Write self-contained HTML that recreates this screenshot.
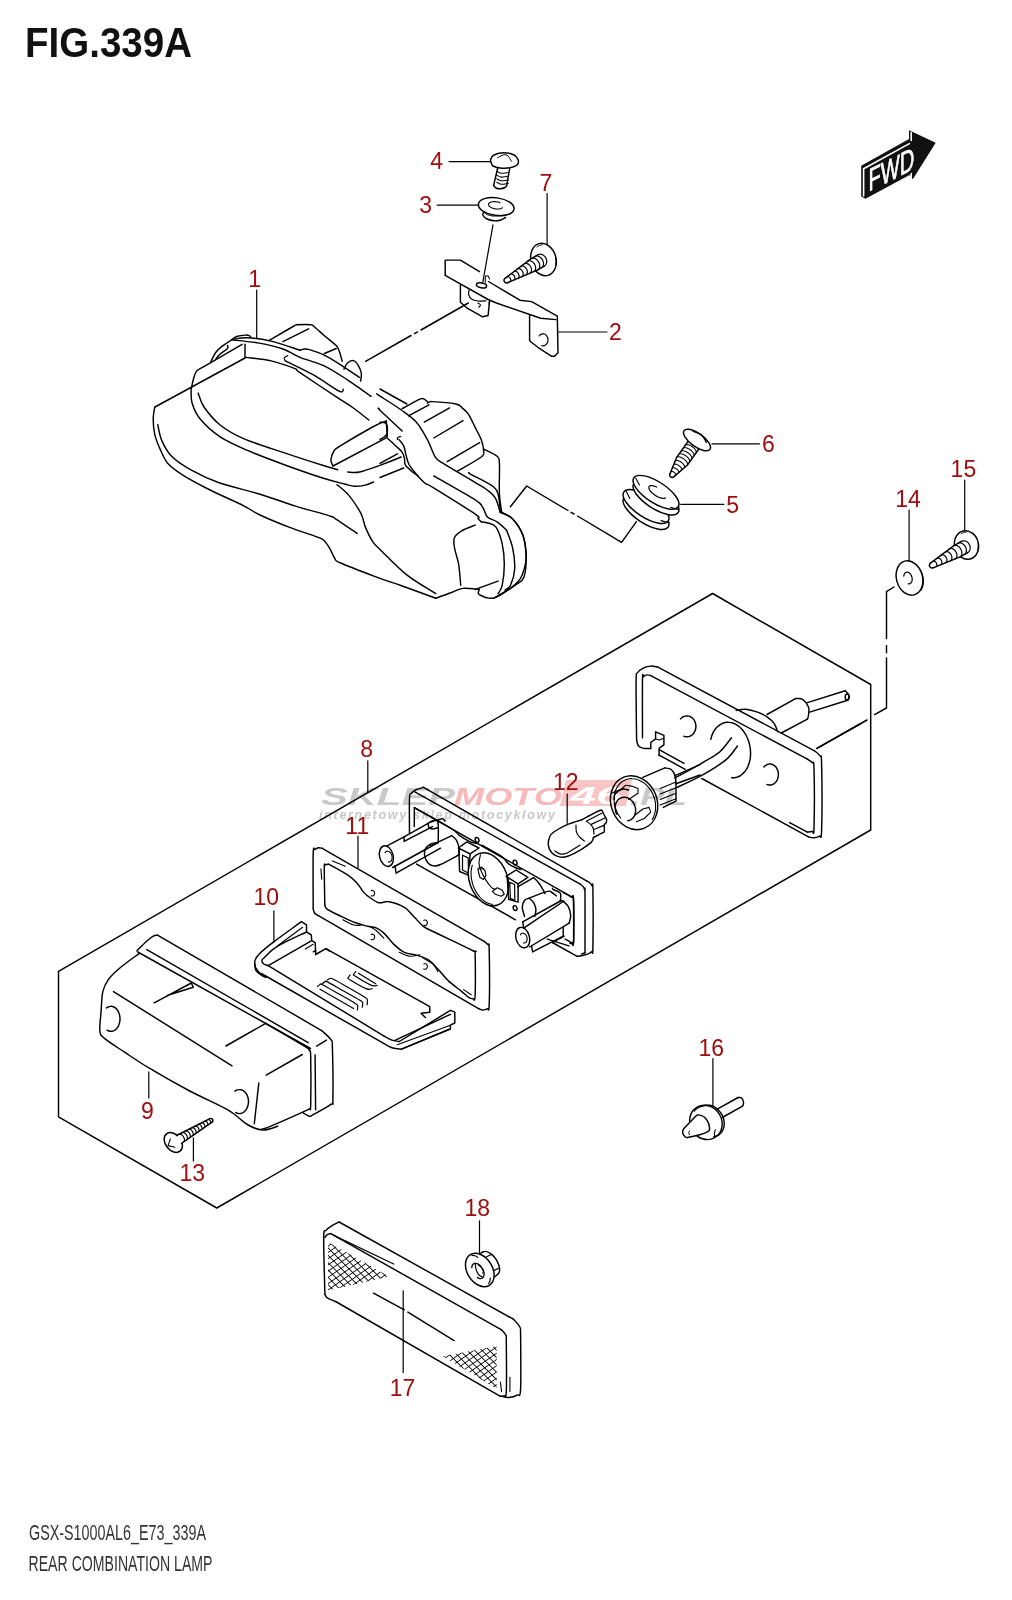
<!DOCTYPE html>
<html><head><meta charset="utf-8"><style>
html,body{margin:0;padding:0;background:#fff;}
body{width:1012px;height:1600px;overflow:hidden;}
svg{display:block;}
.lb{font-family:"Liberation Sans",sans-serif;font-size:23px;fill:#a00d0d;stroke:none;}
</style></head><body>
<svg width="1012" height="1600" viewBox="0 0 1012 1600">
<g fill="none" stroke="#000" stroke-width="1.45" stroke-linecap="round" stroke-linejoin="round">
<text x="25" y="57.3" font-family="Liberation Sans" font-weight="bold" font-size="42.5" fill="#111" stroke="none" textLength="167" lengthAdjust="spacingAndGlyphs">FIG.339A</text>
<text x="29" y="1540.4" font-family="Liberation Sans" font-size="21.5" fill="#333" stroke="none" textLength="177" lengthAdjust="spacingAndGlyphs">GSX-S1000AL6_E73_339A</text>
<text x="28.5" y="1570.9" font-family="Liberation Sans" font-size="21.5" fill="#333" stroke="none" textLength="184" lengthAdjust="spacingAndGlyphs">REAR COMBINATION LAMP</text>
<path d="M861.2 165.7 L909 139 L909 130.3 L935.7 142.8 L912.8 179.2 L909.6 175 L865.5 198.8 L861.2 196.6 Z" fill="#111" stroke="none"/>
<path d="M863.6 196 L863.6 168.8 L909.4 143.6 M911.2 132.5 L911.2 140.5 M911.2 173.5 L911.2 177.5" stroke="#fff" stroke-width="1.6"/>
<text transform="matrix(1 -0.5 0 1 868.4 191.8)" font-family="Liberation Sans" font-size="32" fill="#fff" stroke="#fff" stroke-width="0.7" textLength="46" lengthAdjust="spacingAndGlyphs">FWD</text>
<path d="M712.6 593.5 L870.7 684.5 L870.7 830 L216.8 1208 L58.5 1116.8 L58.5 971.3 Z"/>
<path d="M817 748.3 L867 720"/>
<path d="M365.6 361.3 L411 335.5"/>
<path d="M414.5 333.6 L417.5 331.9"/>
<path d="M421 330 L468.3 303"/>
<path d="M510.4 506.7 L526.7 486 L568 510.5"/>
<path d="M571 512.3 L574 514"/>
<path d="M577.5 516 L621.6 542.3 L636.4 521.6"/>
<path d="M874.6 714.6 L886.5 708 L886.5 658"/>
<path d="M886.5 652.7 L886.5 645.6"/>
<path d="M886.5 638.6 L886.5 591.7 L894 587"/>
<path d="M256.7 290.2 L256.7 338" stroke-width="1.2"/>
<path d="M558.1 332 L607 332" stroke-width="1.2"/>
<path d="M437.3 205.2 L478.8 205.2" stroke-width="1.2"/>
<path d="M449.1 161.7 L490.6 161.7" stroke-width="1.2"/>
<path d="M680.8 504.4 L723.8 504.4" stroke-width="1.2"/>
<path d="M712 443.9 L759.4 443.9" stroke-width="1.2"/>
<path d="M547.1 193.6 L547.1 244.8" stroke-width="1.2"/>
<path d="M367.8 760.9 L367.8 791.8" stroke-width="1.2"/>
<path d="M148.8 1071.9 L148.8 1098" stroke-width="1.2"/>
<path d="M273.9 911.2 L273.9 942" stroke-width="1.2"/>
<path d="M358 836 L358 867.4" stroke-width="1.2"/>
<path d="M567.2 794 L567.2 823.2" stroke-width="1.2"/>
<path d="M193.4 1137.8 L193.4 1161" stroke-width="1.2"/>
<path d="M909.1 510 L909.1 561" stroke-width="1.2"/>
<path d="M964.7 480.2 L964.7 530.7" stroke-width="1.2"/>
<path d="M712.9 1058.7 L712.9 1106" stroke-width="1.2"/>
<path d="M403.2 1290.8 L403.2 1372.6" stroke-width="1.2"/>
<path d="M479.5 1220.8 L479.5 1252.8" stroke-width="1.2"/>
<text x="254.7" y="287" class="lb" text-anchor="middle">1</text>
<text x="615.5" y="339.5" class="lb" text-anchor="middle">2</text>
<text x="425.6" y="213.3" class="lb" text-anchor="middle">3</text>
<text x="436.7" y="169.2" class="lb" text-anchor="middle">4</text>
<text x="732.7" y="512.5" class="lb" text-anchor="middle">5</text>
<text x="768.3" y="451.7" class="lb" text-anchor="middle">6</text>
<text x="545.8" y="191" class="lb" text-anchor="middle">7</text>
<text x="366.6" y="757" class="lb" text-anchor="middle">8</text>
<text x="147.4" y="1119" class="lb" text-anchor="middle">9</text>
<text x="266.3" y="904.8" class="lb" text-anchor="middle">10</text>
<text x="357.3" y="833.7" class="lb" text-anchor="middle">11</text>
<text x="565.7" y="790" class="lb" text-anchor="middle">12</text>
<text x="192.2" y="1181.3" class="lb" text-anchor="middle">13</text>
<text x="908.1" y="506.5" class="lb" text-anchor="middle">14</text>
<text x="963.4" y="476.7" class="lb" text-anchor="middle">15</text>
<text x="711.3" y="1056" class="lb" text-anchor="middle">16</text>
<text x="402.5" y="1396" class="lb" text-anchor="middle">17</text>
<text x="477.2" y="1216" class="lb" text-anchor="middle">18</text>
<path d="M491.5 163.5 C491.4 162.8 490.2 160.9 490.6 159.5 C491 158.1 491.8 156.1 494 155 C496.2 153.9 500.7 152.8 504 152.8 C507.3 152.8 511.6 153.8 514 155 C516.4 156.2 517.7 158.3 518.2 160 C518.7 161.7 518.4 163.7 517 165 C515.6 166.3 512.8 167.3 510 167.8 C507.2 168.3 502.8 168.3 500 168 C497.2 167.7 494.4 166.8 493 166 C491.6 165.2 491.8 163.9 491.5 163.5"/>
<path d="M497.5 157.8 C498.5 157.3 501.9 155.1 503.7 154.8 C505.4 154.5 506.7 154.9 508 156 C509.3 157.1 510.8 160.4 511.4 161.3" stroke-width="1"/>
<path d="M497.7 168 L493.6 185.5"/>
<path d="M509.6 168.8 L506.6 186"/>
<path d="M493.6 185.5 C494 185.9 494.9 187.4 496 188 C497.1 188.6 499 188.9 500.5 188.8 C502 188.7 504 188 505 187.5 C506 187 506.3 186.2 506.6 186"/>
<path d="M496.8 171.3 C497.5 171.6 499.1 173.1 501 173.3 C502.9 173.5 507.1 172.6 508.3 172.5" stroke-width="1.1"/>
<path d="M496.8 175.1 C497.5 175.4 499.1 176.9 501 177.1 C502.9 177.3 507.1 176.4 508.3 176.3" stroke-width="1.1"/>
<path d="M496.8 178.8 C497.5 179.1 499.1 180.6 501 180.8 C502.9 181 507.1 180.1 508.3 180" stroke-width="1.1"/>
<path d="M496.8 182.3 C497.5 182.6 499.1 184.1 501 184.3 C502.9 184.5 507.1 183.6 508.3 183.5" stroke-width="1.1"/>
<ellipse cx="496.2" cy="206.6" rx="18" ry="8.8" transform="rotate(8 496.2 206.6)"/>
<path d="M502.5 207.8 C502.4 207.8 502.2 208 501.9 208.1 C501.7 208.2 501.5 208.3 501.3 208.4 C501 208.5 500.7 208.6 500.5 208.7 C500.2 208.8 499.9 208.8 499.6 208.9 C499.3 208.9 499 209 498.6 209 C498.3 209 498 209 497.6 209 C497.3 209 496.9 209 496.6 209 C496.2 209 495.9 208.9 495.5 208.9 C495.2 208.8 494.8 208.8 494.5 208.7 C494.2 208.6 493.8 208.5 493.5 208.4 C493.2 208.4 492.8 208.2 492.5 208.1 C492.2 208 491.9 207.9 491.6 207.8 C491.4 207.6 491.1 207.5 490.8 207.4 C490.6 207.2 490.3 207.1 490.1 206.9 C489.9 206.7 489.7 206.6 489.5 206.4 C489.4 206.2 489.2 206.1 489.1 205.9 C489 205.7 488.8 205.6 488.8 205.4 C488.7 205.2 488.6 205 488.6 204.9 C488.6 204.7 488.5 204.5 488.6 204.3 C488.6 204.2 488.6 204 488.7 203.8 C488.7 203.7 488.8 203.5 488.9 203.4 C489.1 203.2 489.2 203.1 489.4 202.9 C489.5 202.8 489.7 202.7 489.9 202.6 C490.1 202.4 490.3 202.3 490.6 202.2 C490.8 202.1 491.1 202.1 491.3 202 C491.6 201.9 491.9 201.8 492.2 201.8 C492.5 201.7 492.8 201.7 493.1 201.6 C493.4 201.6 493.8 201.6 494.1 201.6 C494.5 201.6 494.8 201.6 495.1 201.6 C495.5 201.6 495.8 201.7 496.2 201.7 C496.5 201.7 496.9 201.8 497.2 201.9 C497.6 201.9 497.9 202 498.3 202.1 C498.6 202.2 498.9 202.3 499.2 202.4 C499.6 202.5 500 202.7 500.1 202.7" stroke-width="1.1"/>
<path d="M483.5 212.5 C483.4 213 482.4 214.4 483 215.5 C483.6 216.6 485.2 218.1 487 219 C488.8 219.9 491.7 220.6 494 220.8 C496.3 221 499.1 220.6 501 220 C502.9 219.4 504.8 217.9 505.5 217.5"/>
<path d="M482.3 210.5 C482.9 211.1 484.2 213.1 486 214 C487.8 214.9 490.2 215.8 493 216 C495.8 216.2 501.3 215.6 503 215.5" stroke-width="1"/>
<ellipse cx="543.5" cy="259.5" rx="12.5" ry="16.5" transform="rotate(-16 543.5 259.5)"/>
<path d="M537 247 C537.1 246.9 537.5 246.6 537.8 246.4 C538 246.2 538.3 246 538.6 245.8 C538.9 245.7 539.2 245.5 539.5 245.4 C539.8 245.3 540.1 245.2 540.4 245.1 C540.7 245 541 244.9 541.3 244.9 C541.6 244.8 542.1 244.8 542.3 244.8" stroke-width="1"/>
<path d="M555.4 257.7 C555.4 257.9 555.6 258.6 555.6 259 C555.7 259.4 555.7 259.9 555.8 260.3 C555.8 260.7 555.8 261.2 555.9 261.6 C555.9 262 555.9 262.4 555.8 262.8 C555.8 263.3 555.8 263.7 555.7 264.1 C555.7 264.5 555.6 265.1 555.5 265.3" stroke-width="1"/>
<path d="M537.8 254.9 L530.8 258.9 L505.1 278.3 L504.2 279.2 L504 280.4 L504.4 281.6 L505.2 282.6 L506.4 282.9 L507.5 282.7 L537.3 270.1 L544.2 266.1 Z" fill="#fff" stroke="none"/>
<path d="M505.1 278.3 C504.9 278.5 504.4 278.8 504.2 279.2 C504.1 279.5 504 280 504 280.4 C504 280.8 504.1 281.3 504.4 281.6 C504.6 282 504.9 282.3 505.2 282.6 C505.6 282.8 506 282.9 506.4 282.9 C506.8 283 507.4 282.7 507.5 282.7"/>
<path d="M537.8 254.9 L530.8 258.9 L505.1 278.3"/>
<path d="M544.2 266.1 L537.3 270.1 L507.5 282.7"/>
<path d="M537.8 254.9 C537.9 254.8 538.2 254.6 538.5 254.5 C538.7 254.4 539 254.4 539.2 254.3 C539.5 254.3 539.8 254.2 540 254.2 C540.3 254.2 540.6 254.2 540.9 254.3 C541.1 254.3 541.4 254.4 541.7 254.4 C542 254.5 542.2 254.6 542.5 254.7 C542.8 254.8 543 255 543.3 255.1 C543.5 255.3 543.8 255.5 544 255.7 C544.2 255.8 544.5 256 544.7 256.3 C544.9 256.5 545.1 256.7 545.3 257 C545.5 257.2 545.6 257.5 545.8 257.7 C545.9 258 546.1 258.3 546.2 258.6 C546.3 258.9 546.4 259.1 546.5 259.4 C546.6 259.7 546.7 260 546.7 260.3 C546.7 260.6 546.8 260.9 546.8 261.2 C546.8 261.5 546.8 261.8 546.7 262.1 C546.7 262.4 546.7 262.7 546.6 262.9 C546.5 263.2 546.4 263.5 546.3 263.7 C546.2 264 546.1 264.2 545.9 264.5 C545.8 264.7 545.6 264.9 545.5 265.1 C545.3 265.3 545.1 265.5 544.9 265.7 C544.7 265.8 544.4 266.1 544.2 266.1" stroke-width="1.2"/>
<path d="M535.1 256.4 C535.2 256.3 535.5 256.2 535.7 256.1 C535.9 256 536.2 256 536.4 256 C536.6 255.9 536.8 255.9 537.1 255.9 C537.3 256 537.5 256 537.8 256 C538 256.1 538.3 256.2 538.5 256.3 C538.8 256.4 539 256.5 539.2 256.6 C539.5 256.7 539.7 256.9 539.9 257 C540.2 257.2 540.4 257.4 540.6 257.6 C540.8 257.8 541.1 258 541.3 258.2 C541.5 258.5 541.6 258.7 541.8 259 C542 259.2 542.2 259.5 542.3 259.7 C542.5 260 542.6 260.3 542.8 260.6 C542.9 260.8 543 261.1 543.1 261.4 C543.2 261.7 543.3 262 543.3 262.3 C543.4 262.6 543.4 262.9 543.5 263.1 C543.5 263.4 543.5 263.7 543.5 264 C543.5 264.2 543.5 264.5 543.4 264.8 C543.4 265 543.3 265.3 543.3 265.5 C543.2 265.7 543.1 266 543 266.2 C542.9 266.4 542.7 266.6 542.6 266.8 C542.5 266.9 542.3 267.1 542.2 267.3 C542 267.4 541.7 267.6 541.6 267.6" stroke-width="1.2"/>
<path d="M531.4 258.5 C531.5 258.5 531.8 258.3 532 258.3 C532.2 258.2 532.4 258.1 532.7 258.1 C532.9 258.1 533.1 258.1 533.3 258.1 C533.6 258.1 533.8 258.1 534.1 258.2 C534.3 258.2 534.5 258.3 534.8 258.4 C535 258.5 535.3 258.6 535.5 258.8 C535.7 258.9 536 259 536.2 259.2 C536.4 259.4 536.7 259.6 536.9 259.7 C537.1 259.9 537.3 260.2 537.5 260.4 C537.7 260.6 537.9 260.9 538.1 261.1 C538.3 261.4 538.4 261.6 538.6 261.9 C538.8 262.2 538.9 262.4 539 262.7 C539.1 263 539.3 263.3 539.4 263.6 C539.4 263.8 539.5 264.1 539.6 264.4 C539.7 264.7 539.7 265 539.7 265.3 C539.8 265.6 539.8 265.9 539.8 266.1 C539.8 266.4 539.7 266.7 539.7 266.9 C539.7 267.2 539.6 267.4 539.5 267.7 C539.4 267.9 539.4 268.1 539.2 268.3 C539.1 268.5 539 268.7 538.9 268.9 C538.7 269.1 538.6 269.3 538.4 269.4 C538.3 269.6 538 269.7 537.9 269.8" stroke-width="1.2"/>
<path d="M527.9 261.1 C528 261 528.3 260.9 528.5 260.8 C528.7 260.8 528.9 260.7 529.1 260.7 C529.3 260.7 529.5 260.6 529.7 260.7 C529.9 260.7 530.1 260.7 530.4 260.8 C530.6 260.8 530.8 260.9 531 261 C531.3 261 531.5 261.2 531.7 261.3 C531.9 261.4 532.2 261.5 532.4 261.7 C532.6 261.8 532.8 262 533 262.2 C533.2 262.4 533.4 262.6 533.6 262.8 C533.8 263 534 263.2 534.1 263.5 C534.3 263.7 534.5 263.9 534.6 264.2 C534.7 264.4 534.9 264.7 535 265 C535.1 265.2 535.2 265.5 535.3 265.8 C535.4 266 535.5 266.3 535.5 266.6 C535.6 266.8 535.6 267.1 535.6 267.4 C535.7 267.6 535.7 267.9 535.7 268.1 C535.7 268.4 535.6 268.6 535.6 268.9 C535.6 269.1 535.5 269.4 535.4 269.6 C535.4 269.8 535.3 270 535.2 270.2 C535.1 270.4 535 270.6 534.9 270.7 C534.7 270.9 534.6 271.1 534.4 271.2 C534.3 271.3 534 271.5 533.9 271.5" stroke-width="1.2"/>
<path d="M524.4 263.7 C524.5 263.6 524.8 263.5 524.9 263.5 C525.1 263.4 525.3 263.4 525.5 263.3 C525.7 263.3 525.9 263.3 526.1 263.3 C526.3 263.3 526.5 263.4 526.7 263.4 C526.9 263.4 527.1 263.5 527.3 263.6 C527.5 263.7 527.7 263.8 527.9 263.9 C528.1 264 528.3 264.1 528.5 264.3 C528.7 264.4 528.9 264.6 529.1 264.7 C529.3 264.9 529.5 265.1 529.6 265.3 C529.8 265.5 530 265.7 530.1 265.9 C530.3 266.1 530.4 266.3 530.5 266.5 C530.7 266.8 530.8 267 530.9 267.2 C531 267.5 531.1 267.7 531.2 268 C531.3 268.2 531.3 268.4 531.4 268.7 C531.4 268.9 531.5 269.2 531.5 269.4 C531.5 269.7 531.5 269.9 531.5 270.1 C531.5 270.4 531.5 270.6 531.5 270.8 C531.4 271 531.4 271.2 531.3 271.4 C531.3 271.6 531.2 271.8 531.1 272 C531 272.2 530.9 272.3 530.8 272.5 C530.7 272.6 530.5 272.8 530.4 272.9 C530.3 273 530 273.2 529.9 273.2" stroke-width="1.2"/>
<path d="M521 266.3 C521.1 266.3 521.3 266.1 521.4 266.1 C521.6 266 521.8 266 521.9 266 C522.1 266 522.3 266 522.5 266 C522.6 266 522.8 266 523 266 C523.2 266.1 523.4 266.1 523.6 266.2 C523.7 266.3 523.9 266.4 524.1 266.5 C524.3 266.6 524.5 266.7 524.7 266.8 C524.8 266.9 525 267.1 525.2 267.2 C525.3 267.4 525.5 267.6 525.7 267.7 C525.8 267.9 526 268.1 526.1 268.3 C526.2 268.5 526.4 268.7 526.5 268.9 C526.6 269.1 526.7 269.3 526.8 269.5 C526.9 269.7 527 269.9 527.1 270.2 C527.1 270.4 527.2 270.6 527.2 270.8 C527.3 271 527.3 271.3 527.3 271.5 C527.4 271.7 527.4 271.9 527.4 272.1 C527.4 272.3 527.3 272.5 527.3 272.7 C527.3 272.9 527.2 273.1 527.2 273.3 C527.1 273.5 527.1 273.6 527 273.8 C526.9 274 526.8 274.1 526.7 274.3 C526.6 274.4 526.5 274.5 526.4 274.6 C526.2 274.7 526 274.9 525.9 274.9" stroke-width="1.2"/>
<path d="M517.5 268.9 C517.6 268.9 517.8 268.8 517.9 268.7 C518.1 268.7 518.2 268.7 518.4 268.6 C518.5 268.6 518.7 268.6 518.8 268.6 C519 268.6 519.2 268.7 519.3 268.7 C519.5 268.7 519.7 268.8 519.8 268.8 C520 268.9 520.2 269 520.3 269.1 C520.5 269.2 520.6 269.3 520.8 269.4 C521 269.5 521.1 269.6 521.3 269.8 C521.4 269.9 521.6 270 521.7 270.2 C521.8 270.3 522 270.5 522.1 270.7 C522.2 270.8 522.3 271 522.4 271.2 C522.5 271.4 522.6 271.6 522.7 271.8 C522.8 272 522.9 272.2 522.9 272.4 C523 272.5 523.1 272.7 523.1 272.9 C523.1 273.1 523.2 273.3 523.2 273.5 C523.2 273.7 523.2 273.9 523.2 274.1 C523.2 274.3 523.2 274.5 523.2 274.6 C523.1 274.8 523.1 275 523 275.2 C523 275.3 522.9 275.5 522.9 275.6 C522.8 275.8 522.7 275.9 522.6 276 C522.5 276.1 522.4 276.2 522.3 276.3 C522.2 276.4 522 276.6 521.9 276.6" stroke-width="1.2"/>
<path d="M514.1 271.5 C514.1 271.5 514.3 271.4 514.4 271.4 C514.5 271.3 514.7 271.3 514.8 271.3 C514.9 271.3 515.1 271.3 515.2 271.3 C515.4 271.3 515.5 271.3 515.6 271.3 C515.8 271.4 515.9 271.4 516.1 271.5 C516.2 271.5 516.4 271.6 516.5 271.7 C516.7 271.7 516.8 271.8 516.9 271.9 C517.1 272 517.2 272.1 517.3 272.3 C517.5 272.4 517.6 272.5 517.7 272.6 C517.8 272.8 518 272.9 518.1 273.1 C518.2 273.2 518.3 273.4 518.4 273.5 C518.5 273.7 518.5 273.9 518.6 274 C518.7 274.2 518.8 274.4 518.8 274.6 C518.9 274.7 518.9 274.9 519 275.1 C519 275.2 519 275.4 519 275.6 C519.1 275.8 519.1 275.9 519.1 276.1 C519.1 276.3 519 276.4 519 276.6 C519 276.7 519 276.9 518.9 277 C518.9 277.2 518.8 277.3 518.8 277.4 C518.7 277.5 518.6 277.7 518.5 277.8 C518.5 277.9 518.4 278 518.3 278.1 C518.2 278.1 518 278.2 517.9 278.3" stroke-width="1.2"/>
<path d="M510.6 274.1 C510.6 274.1 510.8 274 510.9 274 C511 274 511.1 273.9 511.2 273.9 C511.3 273.9 511.5 273.9 511.6 273.9 C511.7 273.9 511.8 273.9 512 274 C512.1 274 512.2 274 512.3 274.1 C512.5 274.1 512.6 274.2 512.7 274.3 C512.8 274.3 513 274.4 513.1 274.5 C513.2 274.6 513.3 274.7 513.4 274.8 C513.5 274.9 513.6 275 513.8 275.1 C513.9 275.2 514 275.4 514 275.5 C514.1 275.6 514.2 275.7 514.3 275.9 C514.4 276 514.5 276.2 514.5 276.3 C514.6 276.5 514.6 276.6 514.7 276.8 C514.7 276.9 514.8 277.1 514.8 277.2 C514.9 277.3 514.9 277.5 514.9 277.6 C514.9 277.8 514.9 277.9 514.9 278.1 C514.9 278.2 514.9 278.4 514.9 278.5 C514.9 278.6 514.8 278.8 514.8 278.9 C514.7 279 514.7 279.1 514.6 279.2 C514.6 279.3 514.5 279.4 514.5 279.5 C514.4 279.6 514.3 279.7 514.2 279.8 C514.1 279.8 514 279.9 513.9 280" stroke-width="1.2"/>
<path d="M507.1 276.8 C507.2 276.7 507.3 276.7 507.4 276.6 C507.5 276.6 507.6 276.6 507.7 276.6 C507.8 276.6 507.9 276.6 508 276.6 C508.1 276.6 508.2 276.6 508.3 276.6 C508.4 276.6 508.5 276.7 508.6 276.7 C508.7 276.8 508.8 276.8 508.9 276.9 C509 276.9 509.1 277 509.2 277.1 C509.3 277.1 509.4 277.2 509.5 277.3 C509.6 277.4 509.7 277.5 509.8 277.6 C509.9 277.7 510 277.8 510 277.9 C510.1 278 510.2 278.1 510.3 278.2 C510.3 278.3 510.4 278.5 510.4 278.6 C510.5 278.7 510.5 278.8 510.6 279 C510.6 279.1 510.7 279.2 510.7 279.3 C510.7 279.5 510.7 279.6 510.7 279.7 C510.8 279.8 510.8 279.9 510.8 280.1 C510.8 280.2 510.7 280.3 510.7 280.4 C510.7 280.5 510.7 280.6 510.6 280.7 C510.6 280.8 510.6 280.9 510.5 281 C510.5 281.1 510.4 281.2 510.4 281.3 C510.3 281.4 510.2 281.4 510.2 281.5 C510.1 281.6 510 281.6 509.9 281.7" stroke-width="1.2"/>
<path d="M445.2 275.3 L445.2 260.1 L460.4 260.1 L479.5 271.7"/>
<path d="M488.5 281.5 L519.9 300.2 L531.7 301.6 L557.3 316.1 L558 352.8 L554.5 356.3 L551.7 356.3 L537.9 347.3 L531 342 L529.6 340.4 L529.6 315.5"/>
<path d="M445.2 275.3 L488.1 299.5 L496.4 303 L540.7 318.2 L555.9 319.6"/>
<path d="M539.2 335.9 C539.3 335.8 539.5 335.5 539.7 335.3 C539.8 335.1 540 335 540.2 334.8 C540.4 334.6 540.6 334.5 540.8 334.4 C541.1 334.3 541.3 334.2 541.5 334.1 C541.7 334 542 333.9 542.2 333.9 C542.4 333.8 542.7 333.8 542.9 333.8 C543.1 333.8 543.4 333.8 543.6 333.8 C543.9 333.9 544.1 333.9 544.3 334 C544.6 334.1 544.8 334.2 545 334.3 C545.2 334.4 545.4 334.5 545.6 334.7 C545.8 334.8 546 335 546.2 335.2 C546.4 335.4 546.6 335.6 546.7 335.8 C546.9 336 547 336.2 547.2 336.5 C547.3 336.7 547.4 336.9 547.5 337.2 C547.6 337.5 547.7 337.7 547.8 338 C547.8 338.3 547.9 338.5 547.9 338.8 C548 339.1 548 339.4 548 339.7 C548 340 548 340.2 548 340.5 C547.9 340.8 547.9 341.1 547.8 341.4 C547.8 341.6 547.7 341.9 547.6 342.2 C547.5 342.4 547.4 342.7 547.3 342.9 C547.1 343.2 547 343.4 546.8 343.6 C546.7 343.8 546.5 344.1 546.4 344.2 C546.2 344.4 546 344.6 545.8 344.8 C545.6 344.9 545.4 345.1 545.2 345.2 C545 345.3 544.7 345.4 544.5 345.5 C544.3 345.6 544.1 345.7 543.8 345.7 C543.6 345.8 543.4 345.8 543.1 345.8 C542.9 345.8 542.6 345.8 542.4 345.8 C542.2 345.7 541.8 345.6 541.7 345.6" stroke-width="1.2"/>
<path d="M460.4 285 L460.4 302.3 L466.7 307.8 L482.6 316.8 L488.1 315.5 L489.5 301.6"/>
<path d="M489.5 301.6 L489.2 304"/>
<ellipse cx="481.5" cy="285.4" rx="5.2" ry="2.4" transform="rotate(10 481.5 285.4)"/>
<path d="M485.3 282.2 C485.3 281.2 485.1 277.5 485.5 276.5 C485.9 275.5 487.3 275.6 488 276 C488.7 276.4 489.2 278.5 489.5 279" stroke-width="1.1"/>
<path d="M469.2 289.6 C469.1 290.4 468.3 292.9 468.7 294.5 C469.1 296.1 469.9 297.9 471.5 299 C473.1 300.1 475.6 300.7 478 301 C480.4 301.3 484.7 300.8 486 300.8" stroke-width="1.2"/>
<path d="M478 303 C478.4 303.3 480.4 304.3 480.5 305 C480.6 305.7 479.1 306.8 478.8 307.2" stroke-width="1.1"/>
<path d="M493 224.8 L482.8 282.3" stroke-width="1.2"/>
<path d="M688.9 440.2 L676.7 457.3 L670 473.8 L669.7 474.9 L669.9 476 L670.7 477 L671.9 477.4 L673.1 477.3 L674 476.6 L687.4 465 L699.7 447.8 Z" fill="#fff" stroke="none"/>
<path d="M670 473.8 C670 474 669.7 474.5 669.7 474.9 C669.7 475.2 669.8 475.7 669.9 476 C670.1 476.4 670.4 476.7 670.7 477 C671.1 477.2 671.5 477.4 671.9 477.4 C672.3 477.5 672.7 477.4 673.1 477.3 C673.4 477.1 673.8 476.7 674 476.6"/>
<path d="M688.9 440.2 L676.7 457.3 L670 473.8"/>
<path d="M699.7 447.8 L687.4 465 L674 476.6"/>
<path d="M687.4 442.3 C687.5 442.2 687.6 442.1 687.7 442 C687.8 441.9 688 441.8 688.1 441.8 C688.3 441.7 688.4 441.7 688.6 441.6 C688.8 441.6 689 441.6 689.2 441.6 C689.4 441.6 689.6 441.6 689.9 441.6 C690.1 441.7 690.3 441.7 690.6 441.8 C690.8 441.8 691.1 441.9 691.3 442 C691.6 442.1 691.9 442.2 692.1 442.3 C692.4 442.4 692.7 442.6 692.9 442.7 C693.2 442.9 693.5 443 693.7 443.2 C694 443.3 694.3 443.5 694.5 443.7 C694.8 443.9 695 444.1 695.3 444.3 C695.5 444.5 695.7 444.7 696 444.9 C696.2 445.1 696.4 445.3 696.6 445.5 C696.8 445.7 697 445.9 697.1 446.2 C697.3 446.4 697.5 446.6 697.6 446.8 C697.7 447 697.9 447.2 698 447.4 C698.1 447.6 698.2 447.8 698.2 448 C698.3 448.2 698.4 448.4 698.4 448.6 C698.4 448.8 698.4 449 698.4 449.1 C698.4 449.3 698.4 449.4 698.3 449.6 C698.3 449.7 698.2 449.9 698.2 450" stroke-width="1.05"/>
<path d="M685.2 445.3 C685.3 445.3 685.4 445.1 685.6 445 C685.7 444.9 685.8 444.8 686 444.8 C686.1 444.7 686.3 444.7 686.5 444.7 C686.6 444.6 686.8 444.6 687 444.6 C687.2 444.6 687.5 444.6 687.7 444.7 C687.9 444.7 688.2 444.7 688.4 444.8 C688.7 444.9 688.9 445 689.2 445 C689.4 445.1 689.7 445.2 690 445.4 C690.2 445.5 690.5 445.6 690.8 445.7 C691 445.9 691.3 446 691.6 446.2 C691.8 446.4 692.1 446.6 692.3 446.7 C692.6 446.9 692.9 447.1 693.1 447.3 C693.3 447.5 693.6 447.7 693.8 447.9 C694 448.1 694.2 448.3 694.4 448.5 C694.6 448.8 694.8 449 695 449.2 C695.1 449.4 695.3 449.6 695.4 449.8 C695.6 450 695.7 450.3 695.8 450.5 C695.9 450.7 696 450.9 696.1 451.1 C696.1 451.3 696.2 451.5 696.2 451.6 C696.3 451.8 696.3 452 696.3 452.2 C696.3 452.3 696.2 452.5 696.2 452.6 C696.1 452.7 696 452.9 696 453" stroke-width="1.05"/>
<path d="M683.1 448.3 C683.1 448.3 683.3 448.1 683.4 448 C683.5 447.9 683.6 447.9 683.8 447.8 C683.9 447.8 684.1 447.7 684.3 447.7 C684.5 447.7 684.7 447.6 684.9 447.6 C685.1 447.6 685.3 447.7 685.5 447.7 C685.8 447.7 686 447.8 686.2 447.8 C686.5 447.9 686.7 448 687 448.1 C687.3 448.2 687.5 448.3 687.8 448.4 C688.1 448.5 688.3 448.6 688.6 448.8 C688.9 448.9 689.1 449.1 689.4 449.2 C689.7 449.4 689.9 449.6 690.2 449.8 C690.4 449.9 690.7 450.1 690.9 450.3 C691.2 450.5 691.4 450.7 691.6 450.9 C691.8 451.1 692.1 451.4 692.3 451.6 C692.5 451.8 692.6 452 692.8 452.2 C693 452.4 693.1 452.7 693.3 452.9 C693.4 453.1 693.5 453.3 693.6 453.5 C693.7 453.7 693.8 453.9 693.9 454.1 C694 454.3 694 454.5 694.1 454.7 C694.1 454.8 694.1 455 694.1 455.2 C694.1 455.3 694.1 455.5 694 455.6 C694 455.8 693.9 456 693.8 456" stroke-width="1.05"/>
<path d="M680.9 451.4 C681 451.3 681.1 451.2 681.2 451.1 C681.3 451 681.5 450.9 681.6 450.8 C681.8 450.8 681.9 450.7 682.1 450.7 C682.3 450.7 682.5 450.7 682.7 450.7 C682.9 450.7 683.1 450.7 683.4 450.7 C683.6 450.8 683.8 450.8 684.1 450.9 C684.3 450.9 684.6 451 684.8 451.1 C685.1 451.2 685.4 451.3 685.6 451.4 C685.9 451.5 686.2 451.7 686.4 451.8 C686.7 452 687 452.1 687.2 452.3 C687.5 452.4 687.8 452.6 688 452.8 C688.3 453 688.5 453.2 688.8 453.4 C689 453.6 689.2 453.8 689.5 454 C689.7 454.2 689.9 454.4 690.1 454.6 C690.3 454.8 690.5 455 690.6 455.2 C690.8 455.5 691 455.7 691.1 455.9 C691.2 456.1 691.4 456.3 691.5 456.5 C691.6 456.7 691.7 456.9 691.7 457.1 C691.8 457.3 691.9 457.5 691.9 457.7 C691.9 457.9 691.9 458 691.9 458.2 C691.9 458.4 691.9 458.5 691.8 458.7 C691.8 458.8 691.7 459 691.7 459" stroke-width="1.05"/>
<path d="M678.8 454.4 C678.8 454.3 678.9 454.2 679.1 454.1 C679.2 454 679.3 453.9 679.5 453.9 C679.6 453.8 679.8 453.8 680 453.7 C680.1 453.7 680.3 453.7 680.5 453.7 C680.7 453.7 681 453.7 681.2 453.8 C681.4 453.8 681.7 453.8 681.9 453.9 C682.2 454 682.4 454 682.7 454.1 C682.9 454.2 683.2 454.3 683.5 454.4 C683.7 454.6 684 454.7 684.3 454.8 C684.5 455 684.8 455.1 685.1 455.3 C685.3 455.5 685.6 455.6 685.9 455.8 C686.1 456 686.4 456.2 686.6 456.4 C686.8 456.6 687.1 456.8 687.3 457 C687.5 457.2 687.7 457.4 687.9 457.6 C688.1 457.8 688.3 458.1 688.5 458.3 C688.7 458.5 688.8 458.7 688.9 458.9 C689.1 459.1 689.2 459.3 689.3 459.6 C689.4 459.8 689.5 460 689.6 460.2 C689.6 460.4 689.7 460.5 689.7 460.7 C689.8 460.9 689.8 461.1 689.8 461.2 C689.8 461.4 689.7 461.6 689.7 461.7 C689.6 461.8 689.5 462 689.5 462.1" stroke-width="1.05"/>
<path d="M676.6 457.4 C676.7 457.4 676.8 457.2 676.9 457.1 C677 457.1 677.2 457 677.3 456.9 C677.5 456.9 677.6 456.8 677.8 456.8 C678 456.8 678.2 456.8 678.4 456.8 C678.6 456.8 678.8 456.8 679 456.8 C679.3 456.8 679.5 456.9 679.8 456.9 C680 457 680.3 457.1 680.5 457.2 C680.8 457.3 681 457.4 681.3 457.5 C681.6 457.6 681.8 457.7 682.1 457.9 C682.4 458 682.6 458.2 682.9 458.3 C683.2 458.5 683.4 458.7 683.7 458.9 C683.9 459 684.2 459.2 684.4 459.4 C684.7 459.6 684.9 459.8 685.1 460 C685.3 460.2 685.5 460.5 685.7 460.7 C685.9 460.9 686.1 461.1 686.3 461.3 C686.5 461.5 686.6 461.7 686.8 461.9 C686.9 462.2 687 462.4 687.1 462.6 C687.2 462.8 687.3 463 687.4 463.2 C687.5 463.4 687.5 463.6 687.5 463.7 C687.6 463.9 687.6 464.1 687.6 464.3 C687.6 464.4 687.5 464.6 687.5 464.7 C687.4 464.8 687.3 465 687.3 465.1" stroke-width="1.05"/>
<path d="M675.2 461 C675.2 461 675.3 460.8 675.4 460.7 C675.5 460.7 675.7 460.6 675.8 460.6 C675.9 460.5 676.1 460.5 676.2 460.4 C676.4 460.4 676.5 460.4 676.7 460.4 C676.9 460.4 677.1 460.4 677.3 460.4 C677.5 460.5 677.7 460.5 677.9 460.6 C678.1 460.6 678.3 460.7 678.6 460.8 C678.8 460.8 679 460.9 679.2 461 C679.5 461.1 679.7 461.3 679.9 461.4 C680.1 461.5 680.4 461.6 680.6 461.8 C680.8 461.9 681.1 462.1 681.3 462.2 C681.5 462.4 681.7 462.5 681.9 462.7 C682.1 462.9 682.3 463.1 682.5 463.2 C682.7 463.4 682.9 463.6 683.1 463.8 C683.2 464 683.4 464.1 683.5 464.3 C683.7 464.5 683.8 464.7 683.9 464.9 C684 465.1 684.2 465.2 684.2 465.4 C684.3 465.6 684.4 465.8 684.5 465.9 C684.5 466.1 684.6 466.3 684.6 466.4 C684.6 466.6 684.6 466.7 684.6 466.9 C684.6 467 684.6 467.1 684.6 467.3 C684.5 467.4 684.4 467.5 684.4 467.6" stroke-width="1.05"/>
<path d="M673.8 464.6 C673.8 464.5 673.9 464.4 674 464.3 C674.1 464.3 674.2 464.2 674.3 464.2 C674.4 464.1 674.5 464.1 674.6 464.1 C674.8 464.1 674.9 464.1 675 464.1 C675.2 464.1 675.4 464.1 675.5 464.1 C675.7 464.1 675.9 464.2 676 464.2 C676.2 464.2 676.4 464.3 676.6 464.4 C676.8 464.4 677 464.5 677.2 464.6 C677.3 464.7 677.5 464.8 677.7 464.9 C677.9 465 678.1 465.1 678.3 465.2 C678.5 465.3 678.7 465.5 678.9 465.6 C679.1 465.7 679.2 465.9 679.4 466 C679.6 466.1 679.8 466.3 679.9 466.4 C680.1 466.6 680.2 466.7 680.4 466.9 C680.5 467 680.6 467.2 680.8 467.4 C680.9 467.5 681 467.7 681.1 467.8 C681.2 468 681.3 468.1 681.4 468.3 C681.4 468.4 681.5 468.6 681.6 468.7 C681.6 468.8 681.6 469 681.7 469.1 C681.7 469.2 681.7 469.4 681.7 469.5 C681.7 469.6 681.7 469.7 681.6 469.8 C681.6 469.9 681.5 470 681.5 470.1" stroke-width="1.05"/>
<path d="M672.3 468.1 C672.4 468.1 672.4 468 672.5 467.9 C672.6 467.9 672.7 467.8 672.7 467.8 C672.8 467.8 672.9 467.7 673 467.7 C673.1 467.7 673.3 467.7 673.4 467.7 C673.5 467.7 673.6 467.7 673.8 467.7 C673.9 467.8 674 467.8 674.2 467.8 C674.3 467.9 674.5 467.9 674.6 468 C674.8 468 674.9 468.1 675.1 468.1 C675.2 468.2 675.4 468.3 675.5 468.4 C675.7 468.5 675.9 468.5 676 468.6 C676.2 468.7 676.3 468.8 676.5 468.9 C676.6 469.1 676.8 469.2 676.9 469.3 C677 469.4 677.2 469.5 677.3 469.6 C677.4 469.8 677.6 469.9 677.7 470 C677.8 470.1 677.9 470.3 678 470.4 C678.1 470.5 678.2 470.6 678.3 470.8 C678.4 470.9 678.4 471 678.5 471.1 C678.6 471.2 678.6 471.4 678.6 471.5 C678.7 471.6 678.7 471.7 678.7 471.8 C678.7 471.9 678.8 472 678.8 472.1 C678.7 472.2 678.7 472.3 678.7 472.4 C678.7 472.4 678.6 472.6 678.6 472.6" stroke-width="1.05"/>
<path d="M670.9 471.7 C670.9 471.6 671 471.6 671 471.5 C671.1 471.5 671.2 471.5 671.2 471.4 C671.3 471.4 671.4 471.4 671.4 471.4 C671.5 471.4 671.6 471.4 671.7 471.4 C671.8 471.4 671.9 471.4 672 471.4 C672.1 471.4 672.2 471.4 672.3 471.4 C672.4 471.5 672.5 471.5 672.7 471.6 C672.8 471.6 672.9 471.6 673 471.7 C673.1 471.7 673.2 471.8 673.4 471.9 C673.5 471.9 673.6 472 673.7 472.1 C673.8 472.1 674 472.2 674.1 472.3 C674.2 472.4 674.3 472.5 674.4 472.6 C674.5 472.6 674.6 472.7 674.7 472.8 C674.8 472.9 674.9 473 675 473.1 C675.1 473.2 675.2 473.3 675.2 473.4 C675.3 473.5 675.4 473.6 675.4 473.7 C675.5 473.8 675.6 473.9 675.6 474 C675.7 474.1 675.7 474.2 675.7 474.2 C675.8 474.3 675.8 474.4 675.8 474.5 C675.8 474.6 675.8 474.6 675.8 474.7 C675.8 474.8 675.8 474.9 675.8 474.9 C675.8 475 675.7 475.1 675.7 475.1" stroke-width="1.05"/>
<ellipse cx="697" cy="440" rx="16" ry="6.6" transform="rotate(36 697 440)" fill="#fff"/>
<path d="M693 431.2 C694.2 431.7 698.2 432.9 700 434 C701.8 435.1 703 436.6 704 438 C705 439.4 705.9 441.6 706.3 442.3" stroke-width="1.4"/>
<ellipse cx="646" cy="512.5" rx="26.5" ry="10.5" transform="rotate(33 646 512.5)" fill="#fff"/>
<ellipse cx="646" cy="506.5" rx="26.5" ry="10.5" transform="rotate(33 646 506.5)" fill="#fff"/>
<ellipse cx="656" cy="498" rx="26.5" ry="10.5" transform="rotate(33 656 498)" fill="#fff"/>
<ellipse cx="656" cy="492.3" rx="26.5" ry="10.5" transform="rotate(33 656 492.3)" fill="#fff"/>
<path d="M665.4 497.9 C665.3 498 665 498.1 664.8 498.2 C664.6 498.3 664.3 498.3 664.1 498.4 C663.8 498.4 663.5 498.4 663.2 498.4 C662.9 498.4 662.6 498.3 662.3 498.3 C661.9 498.2 661.6 498.2 661.2 498.1 C660.9 498 660.5 497.9 660.1 497.7 C659.7 497.6 659.3 497.4 658.9 497.3 C658.5 497.1 658.1 496.9 657.7 496.7 C657.3 496.5 656.9 496.3 656.5 496.1 C656.1 495.9 655.7 495.6 655.3 495.4 C654.9 495.1 654.5 494.8 654.2 494.6 C653.8 494.3 653.4 494 653.1 493.7 C652.7 493.4 652.4 493.1 652.1 492.8 C651.8 492.6 651.5 492.3 651.2 492 C650.9 491.7 650.7 491.4 650.4 491.1 C650.2 490.8 650 490.5 649.8 490.2 C649.6 489.9 649.5 489.6 649.3 489.4 C649.2 489.1 649.1 488.8 649 488.6 C648.9 488.3 648.9 488.1 648.9 487.9 C648.8 487.6 648.8 487.4 648.9 487.2 C648.9 487 649 486.8 649 486.7 C649.1 486.5 649.2 486.4 649.4 486.2 C649.5 486.1 649.7 486 649.9 485.9 C650.1 485.8 650.3 485.7 650.5 485.7 C650.8 485.6 651 485.6 651.3 485.6 C651.6 485.6 651.9 485.6 652.2 485.6 C652.6 485.7 652.9 485.7 653.2 485.8 C653.6 485.9 654 486 654.3 486.1 C654.7 486.2 655.1 486.3 655.5 486.5 C655.9 486.6 656.5 486.9 656.7 487" stroke-width="1.2"/>
<path d="M635.8 478.3 L639.4 485" stroke-width="1.1"/>
<path d="M670.6 507.2 L678.5 509.6" stroke-width="1.1"/>
<path d="M626.1 490.9 L629.8 498.4" stroke-width="1.1"/>
<path d="M661 520.6 L669.1 522.8" stroke-width="1.1"/>
<ellipse cx="966.5" cy="545" rx="12" ry="14.4" transform="rotate(-14 966.5 545)"/>
<path d="M961.1 534 C961.2 533.9 961.6 533.6 961.8 533.5 C962.1 533.3 962.4 533.2 962.6 533 C962.9 532.9 963.2 532.8 963.5 532.7 C963.8 532.6 964.1 532.5 964.4 532.4 C964.7 532.3 965 532.3 965.3 532.2 C965.6 532.2 966 532.1 966.2 532.1" stroke-width="1"/>
<path d="M977.9 543.6 C977.9 543.8 978 544.3 978.1 544.7 C978.1 545.1 978.1 545.4 978.2 545.8 C978.2 546.2 978.2 546.6 978.1 546.9 C978.1 547.3 978.1 547.7 978.1 548 C978 548.4 978 548.8 977.9 549.1 C977.8 549.5 977.7 550 977.6 550.2" stroke-width="1"/>
<path d="M961.3 541.4 L953.2 546.1 L930.5 563.2 L929.7 564.1 L929.4 565.4 L929.8 566.7 L930.7 567.6 L931.9 568 L933.1 567.8 L959.5 557.2 L967.7 552.6 Z" fill="#fff" stroke="none"/>
<path d="M930.5 563.2 C930.4 563.4 929.9 563.8 929.7 564.1 C929.5 564.5 929.4 564.9 929.4 565.4 C929.4 565.8 929.5 566.3 929.8 566.7 C930 567 930.3 567.4 930.7 567.6 C931 567.9 931.5 568 931.9 568 C932.3 568.1 932.9 567.8 933.1 567.8"/>
<path d="M961.3 541.4 L953.2 546.1 L930.5 563.2"/>
<path d="M967.7 552.6 L959.5 557.2 L933.1 567.8"/>
<path d="M961.3 541.4 C961.5 541.4 961.8 541.2 962.1 541.1 C962.3 541 962.6 540.9 962.8 540.9 C963.1 540.9 963.3 540.8 963.6 540.8 C963.9 540.8 964.1 540.8 964.4 540.9 C964.7 540.9 965 541 965.2 541 C965.5 541.1 965.8 541.2 966 541.3 C966.3 541.4 966.5 541.6 966.8 541.7 C967 541.9 967.3 542.1 967.5 542.2 C967.7 542.4 967.9 542.6 968.2 542.9 C968.4 543.1 968.6 543.3 968.7 543.6 C968.9 543.8 969.1 544.1 969.2 544.3 C969.4 544.6 969.5 544.9 969.6 545.1 C969.8 545.4 969.9 545.7 969.9 546 C970 546.3 970.1 546.6 970.1 546.9 C970.2 547.2 970.2 547.5 970.2 547.8 C970.2 548 970.2 548.3 970.1 548.6 C970.1 548.9 970.1 549.2 970 549.5 C969.9 549.7 969.8 550 969.7 550.2 C969.6 550.5 969.5 550.7 969.3 551 C969.2 551.2 969 551.4 968.9 551.6 C968.7 551.8 968.5 552 968.3 552.1 C968.1 552.3 967.8 552.5 967.7 552.6" stroke-width="1.2"/>
<path d="M958.2 543.2 C958.3 543.2 958.6 543 958.8 542.9 C959 542.9 959.2 542.8 959.4 542.8 C959.7 542.8 959.9 542.8 960.1 542.8 C960.3 542.8 960.6 542.8 960.8 542.9 C961.1 543 961.3 543 961.5 543.1 C961.8 543.2 962 543.3 962.2 543.5 C962.5 543.6 962.7 543.7 962.9 543.9 C963.2 544.1 963.4 544.3 963.6 544.5 C963.8 544.7 964 544.9 964.2 545.1 C964.4 545.3 964.6 545.6 964.8 545.8 C964.9 546 965.1 546.3 965.3 546.6 C965.4 546.8 965.6 547.1 965.7 547.4 C965.8 547.7 965.9 547.9 966 548.2 C966.1 548.5 966.2 548.8 966.2 549.1 C966.3 549.4 966.3 549.7 966.3 549.9 C966.4 550.2 966.4 550.5 966.4 550.8 C966.4 551 966.3 551.3 966.3 551.5 C966.3 551.8 966.2 552 966.1 552.3 C966 552.5 966 552.7 965.9 552.9 C965.7 553.1 965.6 553.3 965.5 553.5 C965.4 553.7 965.2 553.8 965 554 C964.9 554.1 964.6 554.3 964.5 554.3" stroke-width="1.2"/>
<path d="M953.7 545.7 C953.8 545.7 954.1 545.5 954.3 545.5 C954.5 545.4 954.7 545.4 955 545.3 C955.2 545.3 955.4 545.3 955.6 545.3 C955.9 545.3 956.1 545.4 956.3 545.4 C956.6 545.5 956.8 545.6 957.1 545.7 C957.3 545.7 957.5 545.9 957.8 546 C958 546.1 958.2 546.3 958.5 546.4 C958.7 546.6 958.9 546.8 959.1 547 C959.3 547.2 959.5 547.4 959.7 547.6 C959.9 547.8 960.1 548.1 960.3 548.3 C960.5 548.6 960.6 548.8 960.8 549.1 C960.9 549.4 961.1 549.6 961.2 549.9 C961.3 550.2 961.4 550.5 961.5 550.8 C961.6 551 961.7 551.3 961.7 551.6 C961.8 551.9 961.8 552.2 961.9 552.5 C961.9 552.7 961.9 553 961.9 553.3 C961.9 553.6 961.9 553.8 961.8 554.1 C961.8 554.3 961.7 554.6 961.6 554.8 C961.6 555 961.5 555.3 961.4 555.5 C961.3 555.7 961.1 555.9 961 556 C960.9 556.2 960.7 556.4 960.6 556.5 C960.4 556.6 960.1 556.8 960 556.9" stroke-width="1.2"/>
<path d="M949.6 548.8 C949.6 548.8 949.9 548.6 950.1 548.6 C950.3 548.5 950.5 548.5 950.7 548.4 C950.9 548.4 951.1 548.4 951.3 548.4 C951.5 548.4 951.7 548.5 951.9 548.5 C952.1 548.6 952.3 548.6 952.6 548.7 C952.8 548.8 953 548.9 953.2 549 C953.4 549.2 953.6 549.3 953.8 549.4 C954 549.6 954.2 549.8 954.4 549.9 C954.6 550.1 954.8 550.3 955 550.5 C955.2 550.7 955.3 550.9 955.5 551.1 C955.7 551.4 955.8 551.6 955.9 551.8 C956.1 552.1 956.2 552.3 956.3 552.6 C956.4 552.8 956.5 553.1 956.6 553.3 C956.7 553.6 956.7 553.9 956.8 554.1 C956.9 554.4 956.9 554.6 956.9 554.9 C956.9 555.1 956.9 555.4 956.9 555.6 C956.9 555.9 956.9 556.1 956.9 556.3 C956.8 556.6 956.8 556.8 956.7 557 C956.6 557.2 956.6 557.4 956.5 557.6 C956.4 557.8 956.3 558 956.1 558.1 C956 558.3 955.9 558.4 955.7 558.5 C955.6 558.7 955.3 558.8 955.3 558.9" stroke-width="1.2"/>
<path d="M945.4 551.9 C945.5 551.9 945.7 551.8 945.9 551.7 C946 551.7 946.2 551.6 946.4 551.6 C946.6 551.6 946.7 551.6 946.9 551.6 C947.1 551.6 947.3 551.6 947.5 551.7 C947.7 551.7 947.9 551.8 948.1 551.9 C948.3 551.9 948.4 552 948.6 552.1 C948.8 552.2 949 552.4 949.2 552.5 C949.4 552.6 949.5 552.8 949.7 552.9 C949.9 553.1 950 553.3 950.2 553.4 C950.4 553.6 950.5 553.8 950.6 554 C950.8 554.2 950.9 554.4 951 554.6 C951.2 554.8 951.3 555 951.4 555.3 C951.5 555.5 951.5 555.7 951.6 555.9 C951.7 556.2 951.7 556.4 951.8 556.6 C951.8 556.8 951.9 557.1 951.9 557.3 C951.9 557.5 951.9 557.7 951.9 558 C951.9 558.2 951.9 558.4 951.9 558.6 C951.8 558.8 951.8 559 951.7 559.2 C951.7 559.3 951.6 559.5 951.5 559.7 C951.4 559.8 951.3 560 951.2 560.1 C951.1 560.3 951 560.4 950.9 560.5 C950.7 560.6 950.5 560.8 950.4 560.8" stroke-width="1.2"/>
<path d="M941.3 555.1 C941.3 555 941.5 554.9 941.7 554.9 C941.8 554.9 942 554.8 942.1 554.8 C942.3 554.8 942.4 554.8 942.6 554.8 C942.7 554.8 942.9 554.8 943.1 554.9 C943.2 554.9 943.4 555 943.6 555 C943.7 555.1 943.9 555.2 944.1 555.3 C944.2 555.3 944.4 555.4 944.5 555.6 C944.7 555.7 944.8 555.8 945 555.9 C945.1 556.1 945.3 556.2 945.4 556.4 C945.5 556.5 945.7 556.7 945.8 556.9 C945.9 557 946 557.2 946.1 557.4 C946.2 557.6 946.3 557.8 946.4 558 C946.5 558.1 946.6 558.3 946.6 558.5 C946.7 558.7 946.7 558.9 946.8 559.1 C946.8 559.3 946.9 559.5 946.9 559.7 C946.9 559.9 946.9 560.1 946.9 560.3 C946.9 560.5 946.9 560.6 946.8 560.8 C946.8 561 946.8 561.2 946.7 561.3 C946.7 561.5 946.6 561.6 946.5 561.8 C946.5 561.9 946.4 562 946.3 562.2 C946.2 562.3 946.1 562.4 946 562.5 C945.9 562.6 945.7 562.7 945.6 562.7" stroke-width="1.2"/>
<path d="M937.1 558.2 C937.2 558.2 937.4 558.1 937.5 558.1 C937.6 558 937.7 558 937.9 558 C938 558 938.1 558 938.2 558 C938.4 558 938.5 558 938.7 558 C938.8 558.1 938.9 558.1 939.1 558.2 C939.2 558.2 939.3 558.3 939.5 558.4 C939.6 558.4 939.8 558.5 939.9 558.6 C940 558.7 940.1 558.8 940.3 558.9 C940.4 559.1 940.5 559.2 940.6 559.3 C940.7 559.4 940.8 559.6 940.9 559.7 C941 559.9 941.1 560 941.2 560.2 C941.3 560.3 941.4 560.5 941.5 560.6 C941.5 560.8 941.6 561 941.7 561.1 C941.7 561.3 941.7 561.5 941.8 561.6 C941.8 561.8 941.8 562 941.9 562.1 C941.9 562.3 941.9 562.4 941.9 562.6 C941.9 562.7 941.9 562.9 941.8 563 C941.8 563.2 941.8 563.3 941.7 563.5 C941.7 563.6 941.6 563.7 941.6 563.9 C941.5 564 941.4 564.1 941.4 564.2 C941.3 564.3 941.2 564.4 941.1 564.5 C941 564.5 940.8 564.6 940.8 564.7" stroke-width="1.2"/>
<path d="M933 561.4 C933 561.3 933.2 561.3 933.3 561.2 C933.4 561.2 933.5 561.2 933.6 561.2 C933.7 561.2 933.8 561.2 933.9 561.2 C934 561.2 934.1 561.2 934.2 561.2 C934.3 561.2 934.5 561.3 934.6 561.3 C934.7 561.4 934.8 561.4 934.9 561.5 C935 561.5 935.1 561.6 935.2 561.7 C935.3 561.8 935.4 561.9 935.5 561.9 C935.6 562 935.7 562.1 935.8 562.2 C935.9 562.3 936 562.5 936.1 562.6 C936.2 562.7 936.3 562.8 936.3 562.9 C936.4 563.1 936.5 563.2 936.5 563.3 C936.6 563.5 936.6 563.6 936.7 563.7 C936.7 563.9 936.7 564 936.8 564.1 C936.8 564.3 936.8 564.4 936.8 564.5 C936.8 564.7 936.9 564.8 936.8 564.9 C936.8 565 936.8 565.2 936.8 565.3 C936.8 565.4 936.8 565.5 936.7 565.6 C936.7 565.7 936.7 565.8 936.6 565.9 C936.6 566 936.5 566.1 936.4 566.2 C936.4 566.3 936.3 566.4 936.2 566.4 C936.1 566.5 936 566.6 936 566.6" stroke-width="1.2"/>
<ellipse cx="909.5" cy="578" rx="13" ry="17.5" transform="rotate(-16 909.5 578)"/>
<path d="M920.3 570 C920.5 570.3 921 571.3 921.3 572 C921.7 572.7 921.9 573.4 922.2 574.1 C922.4 574.8 922.7 575.6 922.8 576.3 C923 577.1 923.1 577.8 923.2 578.6 C923.3 579.3 923.4 580.1 923.4 580.8 C923.4 581.6 923.4 582.3 923.3 583 C923.3 583.7 923.1 584.5 923 585.1 C922.9 585.8 922.7 586.5 922.5 587.1 C922.2 587.8 922 588.4 921.7 589 C921.4 589.5 920.9 590.3 920.7 590.6" stroke-width="1.1"/>
<path d="M903.8 576.1 C903.9 575.9 903.9 575.6 904 575.3 C904 575.1 904.1 574.8 904.1 574.6 C904.2 574.4 904.3 574.2 904.4 574 C904.5 573.8 904.6 573.6 904.8 573.4 C904.9 573.2 905 573.1 905.2 572.9 C905.3 572.8 905.5 572.7 905.6 572.6 C905.8 572.5 906 572.4 906.1 572.3 C906.3 572.2 906.5 572.2 906.7 572.2 C906.9 572.1 907.1 572.1 907.3 572.1 C907.5 572.1 907.7 572.2 907.9 572.2 C908 572.3 908.2 572.3 908.4 572.4 C908.6 572.5 908.8 572.6 909 572.8 C909.2 572.9 909.4 573 909.6 573.2 C909.8 573.3 910 573.5 910.1 573.7 C910.3 573.9 910.5 574.1 910.6 574.3 C910.8 574.5 910.9 574.8 911 575 C911.2 575.2 911.3 575.5 911.4 575.7 C911.5 576 911.6 576.3 911.7 576.5 C911.8 576.8 911.9 577.1 912 577.3 C912 577.6 912.1 577.9 912.1 578.2 C912.1 578.4 912.2 578.7 912.2 579 C912.2 579.3 912.2 579.5 912.2 579.8 C912.1 580.1 912.1 580.3 912.1 580.6 C912 580.8 912 581.1 911.9 581.3 C911.8 581.5 911.7 581.7 911.6 582 C911.5 582.2 911.4 582.4 911.3 582.5 C911.2 582.7 911 582.9 910.9 583 C910.8 583.2 910.6 583.3 910.4 583.4 C910.3 583.5 910.1 583.6 909.9 583.7 C909.8 583.7 909.6 583.8 909.4 583.8 C909.2 583.9 909 583.9 908.8 583.9 C908.6 583.9 908.3 583.8 908.2 583.8" stroke-width="1.2"/>
<ellipse cx="173.3" cy="1142.5" rx="11" ry="7.8" transform="rotate(52 173.3 1142.5)"/>
<path d="M170.4 1139 L168 1145.6 L174.8 1147.3" stroke-width="1.1"/>
<path d="M181.4 1143.5 L212.1 1122.2 L212.7 1121.5 L212.9 1120.5 L212.6 1119.4 L211.9 1118.7 L210.9 1118.4 L209.9 1118.6 L176.6 1135.5 Z" fill="#fff" stroke="none"/>
<path d="M212.1 1122.2 C212.2 1122.1 212.6 1121.8 212.7 1121.5 C212.9 1121.2 213 1120.8 212.9 1120.5 C212.9 1120.1 212.8 1119.7 212.6 1119.4 C212.4 1119.1 212.2 1118.8 211.9 1118.7 C211.6 1118.5 211.2 1118.4 210.9 1118.4 C210.6 1118.3 210.1 1118.6 209.9 1118.6"/>
<path d="M181.4 1143.5 L212.1 1122.2"/>
<path d="M176.6 1135.5 L209.9 1118.6"/>
<path d="M178.9 1134.3 C178.9 1134.3 179.1 1134.2 179.2 1134.2 C179.3 1134.1 179.5 1134.1 179.6 1134.1 C179.7 1134.1 179.9 1134.1 180 1134.1 C180.2 1134.1 180.3 1134.1 180.5 1134.2 C180.6 1134.2 180.8 1134.3 180.9 1134.4 C181.1 1134.4 181.3 1134.5 181.4 1134.6 C181.6 1134.7 181.7 1134.8 181.9 1134.9 C182 1135.1 182.2 1135.2 182.3 1135.3 C182.5 1135.5 182.6 1135.6 182.8 1135.8 C182.9 1135.9 183 1136.1 183.2 1136.3 C183.3 1136.4 183.4 1136.6 183.5 1136.8 C183.6 1137 183.7 1137.2 183.8 1137.4 C183.9 1137.6 184 1137.8 184.1 1138 C184.1 1138.2 184.2 1138.4 184.3 1138.6 C184.3 1138.7 184.4 1138.9 184.4 1139.1 C184.4 1139.3 184.4 1139.5 184.5 1139.7 C184.5 1139.9 184.5 1140.1 184.5 1140.2 C184.4 1140.4 184.4 1140.6 184.4 1140.7 C184.4 1140.9 184.3 1141 184.3 1141.2 C184.2 1141.3 184.1 1141.4 184.1 1141.5 C184 1141.7 183.9 1141.8 183.8 1141.8 C183.7 1141.9 183.5 1142 183.5 1142.1" stroke-width="1.15"/>
<path d="M182.1 1132.7 C182.1 1132.7 182.3 1132.6 182.4 1132.5 C182.5 1132.5 182.7 1132.5 182.8 1132.5 C182.9 1132.4 183.1 1132.5 183.2 1132.5 C183.3 1132.5 183.5 1132.5 183.6 1132.6 C183.8 1132.6 183.9 1132.6 184.1 1132.7 C184.2 1132.8 184.4 1132.9 184.5 1133 C184.7 1133 184.8 1133.1 184.9 1133.3 C185.1 1133.4 185.2 1133.5 185.4 1133.6 C185.5 1133.8 185.6 1133.9 185.8 1134.1 C185.9 1134.2 186 1134.4 186.1 1134.5 C186.3 1134.7 186.4 1134.9 186.5 1135 C186.6 1135.2 186.7 1135.4 186.8 1135.6 C186.9 1135.8 186.9 1135.9 187 1136.1 C187.1 1136.3 187.1 1136.5 187.2 1136.7 C187.2 1136.9 187.3 1137 187.3 1137.2 C187.3 1137.4 187.4 1137.6 187.4 1137.8 C187.4 1137.9 187.4 1138.1 187.4 1138.3 C187.4 1138.4 187.3 1138.6 187.3 1138.7 C187.3 1138.9 187.2 1139 187.2 1139.1 C187.1 1139.3 187.1 1139.4 187 1139.5 C186.9 1139.6 186.8 1139.7 186.8 1139.8 C186.7 1139.9 186.5 1140 186.5 1140" stroke-width="1.15"/>
<path d="M185.3 1131 C185.4 1131 185.5 1130.9 185.6 1130.9 C185.8 1130.9 185.9 1130.8 186 1130.8 C186.1 1130.8 186.2 1130.8 186.4 1130.8 C186.5 1130.9 186.6 1130.9 186.8 1130.9 C186.9 1131 187 1131 187.2 1131.1 C187.3 1131.1 187.5 1131.2 187.6 1131.3 C187.7 1131.4 187.9 1131.5 188 1131.6 C188.2 1131.7 188.3 1131.8 188.4 1131.9 C188.5 1132.1 188.7 1132.2 188.8 1132.3 C188.9 1132.5 189 1132.6 189.1 1132.8 C189.3 1132.9 189.4 1133.1 189.5 1133.3 C189.6 1133.4 189.6 1133.6 189.7 1133.8 C189.8 1133.9 189.9 1134.1 190 1134.3 C190 1134.5 190.1 1134.6 190.1 1134.8 C190.2 1135 190.2 1135.1 190.2 1135.3 C190.3 1135.5 190.3 1135.7 190.3 1135.8 C190.3 1136 190.3 1136.1 190.3 1136.3 C190.3 1136.4 190.3 1136.6 190.2 1136.7 C190.2 1136.9 190.2 1137 190.1 1137.1 C190.1 1137.2 190 1137.4 189.9 1137.5 C189.9 1137.6 189.8 1137.7 189.7 1137.7 C189.6 1137.8 189.5 1137.9 189.4 1137.9" stroke-width="1.15"/>
<path d="M188.6 1129.4 C188.6 1129.4 188.8 1129.3 188.9 1129.3 C189 1129.2 189.1 1129.2 189.2 1129.2 C189.3 1129.2 189.4 1129.2 189.5 1129.2 C189.7 1129.2 189.8 1129.3 189.9 1129.3 C190 1129.3 190.2 1129.4 190.3 1129.4 C190.4 1129.5 190.6 1129.6 190.7 1129.6 C190.8 1129.7 191 1129.8 191.1 1129.9 C191.2 1130 191.3 1130.1 191.5 1130.2 C191.6 1130.4 191.7 1130.5 191.8 1130.6 C191.9 1130.7 192 1130.9 192.1 1131 C192.2 1131.2 192.3 1131.3 192.4 1131.5 C192.5 1131.6 192.6 1131.8 192.7 1132 C192.8 1132.1 192.8 1132.3 192.9 1132.4 C193 1132.6 193 1132.8 193.1 1132.9 C193.1 1133.1 193.1 1133.3 193.2 1133.4 C193.2 1133.6 193.2 1133.7 193.2 1133.9 C193.2 1134 193.2 1134.2 193.2 1134.3 C193.2 1134.5 193.2 1134.6 193.2 1134.7 C193.1 1134.9 193.1 1135 193.1 1135.1 C193 1135.2 193 1135.3 192.9 1135.4 C192.8 1135.5 192.8 1135.6 192.7 1135.7 C192.6 1135.8 192.5 1135.8 192.4 1135.9" stroke-width="1.15"/>
<path d="M191.8 1127.8 C191.8 1127.7 192 1127.7 192.1 1127.6 C192.2 1127.6 192.3 1127.6 192.4 1127.6 C192.5 1127.6 192.6 1127.6 192.7 1127.6 C192.8 1127.6 192.9 1127.6 193.1 1127.7 C193.2 1127.7 193.3 1127.7 193.4 1127.8 C193.5 1127.9 193.7 1127.9 193.8 1128 C193.9 1128.1 194 1128.2 194.2 1128.2 C194.3 1128.3 194.4 1128.4 194.5 1128.5 C194.6 1128.7 194.7 1128.8 194.8 1128.9 C194.9 1129 195 1129.2 195.1 1129.3 C195.2 1129.4 195.3 1129.6 195.4 1129.7 C195.5 1129.8 195.6 1130 195.7 1130.1 C195.7 1130.3 195.8 1130.4 195.8 1130.6 C195.9 1130.7 196 1130.9 196 1131.1 C196 1131.2 196.1 1131.4 196.1 1131.5 C196.1 1131.7 196.1 1131.8 196.1 1131.9 C196.2 1132.1 196.2 1132.2 196.1 1132.4 C196.1 1132.5 196.1 1132.6 196.1 1132.7 C196.1 1132.9 196 1133 196 1133.1 C195.9 1133.2 195.9 1133.3 195.8 1133.4 C195.8 1133.5 195.7 1133.5 195.6 1133.6 C195.6 1133.7 195.4 1133.8 195.4 1133.8" stroke-width="1.15"/>
<path d="M195 1126.1 C195.1 1126.1 195.2 1126 195.3 1126 C195.4 1126 195.5 1126 195.6 1126 C195.7 1126 195.8 1126 195.9 1126 C196 1126 196.1 1126 196.2 1126 C196.3 1126.1 196.4 1126.1 196.5 1126.2 C196.7 1126.2 196.8 1126.3 196.9 1126.3 C197 1126.4 197.1 1126.5 197.2 1126.6 C197.3 1126.7 197.4 1126.8 197.5 1126.9 C197.6 1127 197.8 1127.1 197.8 1127.2 C197.9 1127.3 198 1127.4 198.1 1127.5 C198.2 1127.7 198.3 1127.8 198.4 1127.9 C198.5 1128.1 198.5 1128.2 198.6 1128.3 C198.7 1128.5 198.7 1128.6 198.8 1128.8 C198.8 1128.9 198.9 1129 198.9 1129.2 C199 1129.3 199 1129.5 199 1129.6 C199 1129.7 199.1 1129.9 199.1 1130 C199.1 1130.1 199.1 1130.3 199.1 1130.4 C199.1 1130.5 199 1130.6 199 1130.7 C199 1130.9 199 1131 198.9 1131.1 C198.9 1131.2 198.8 1131.3 198.8 1131.3 C198.7 1131.4 198.7 1131.5 198.6 1131.6 C198.5 1131.6 198.4 1131.7 198.4 1131.7" stroke-width="1.15"/>
<path d="M198.3 1124.5 C198.3 1124.5 198.4 1124.4 198.5 1124.4 C198.6 1124.4 198.7 1124.3 198.8 1124.3 C198.9 1124.3 199 1124.3 199.1 1124.3 C199.2 1124.4 199.3 1124.4 199.4 1124.4 C199.5 1124.4 199.6 1124.5 199.7 1124.5 C199.8 1124.6 199.9 1124.6 200 1124.7 C200.1 1124.7 200.2 1124.8 200.3 1124.9 C200.4 1125 200.5 1125.1 200.6 1125.2 C200.7 1125.3 200.8 1125.4 200.9 1125.5 C201 1125.6 201 1125.7 201.1 1125.8 C201.2 1125.9 201.3 1126 201.4 1126.2 C201.4 1126.3 201.5 1126.4 201.6 1126.5 C201.6 1126.7 201.7 1126.8 201.7 1126.9 C201.8 1127 201.8 1127.2 201.9 1127.3 C201.9 1127.4 201.9 1127.6 202 1127.7 C202 1127.8 202 1127.9 202 1128.1 C202 1128.2 202 1128.3 202 1128.4 C202 1128.5 202 1128.6 202 1128.7 C201.9 1128.9 201.9 1129 201.9 1129 C201.8 1129.1 201.8 1129.2 201.7 1129.3 C201.7 1129.4 201.6 1129.4 201.6 1129.5 C201.5 1129.6 201.4 1129.6 201.4 1129.7" stroke-width="1.15"/>
<path d="M201.5 1122.9 C201.5 1122.8 201.6 1122.8 201.7 1122.8 C201.8 1122.7 201.9 1122.7 202 1122.7 C202.1 1122.7 202.1 1122.7 202.2 1122.7 C202.3 1122.7 202.4 1122.7 202.5 1122.8 C202.6 1122.8 202.7 1122.8 202.8 1122.9 C202.9 1122.9 203 1123 203.1 1123 C203.2 1123.1 203.3 1123.2 203.4 1123.2 C203.4 1123.3 203.5 1123.4 203.6 1123.5 C203.7 1123.6 203.8 1123.6 203.9 1123.7 C204 1123.8 204.1 1123.9 204.1 1124 C204.2 1124.2 204.3 1124.3 204.3 1124.4 C204.4 1124.5 204.5 1124.6 204.5 1124.7 C204.6 1124.8 204.6 1125 204.7 1125.1 C204.7 1125.2 204.8 1125.3 204.8 1125.4 C204.8 1125.6 204.9 1125.7 204.9 1125.8 C204.9 1125.9 204.9 1126 204.9 1126.1 C204.9 1126.2 204.9 1126.4 204.9 1126.5 C204.9 1126.6 204.9 1126.7 204.9 1126.8 C204.9 1126.8 204.8 1126.9 204.8 1127 C204.8 1127.1 204.7 1127.2 204.7 1127.3 C204.6 1127.3 204.6 1127.4 204.5 1127.4 C204.5 1127.5 204.4 1127.6 204.3 1127.6" stroke-width="1.15"/>
<path d="M204.7 1121.2 C204.8 1121.2 204.9 1121.2 204.9 1121.1 C205 1121.1 205.1 1121.1 205.2 1121.1 C205.2 1121.1 205.3 1121.1 205.4 1121.1 C205.5 1121.1 205.6 1121.1 205.6 1121.1 C205.7 1121.2 205.8 1121.2 205.9 1121.2 C206 1121.3 206.1 1121.3 206.2 1121.4 C206.2 1121.4 206.3 1121.5 206.4 1121.6 C206.5 1121.6 206.6 1121.7 206.7 1121.8 C206.8 1121.9 206.8 1121.9 206.9 1122 C207 1122.1 207.1 1122.2 207.1 1122.3 C207.2 1122.4 207.3 1122.5 207.3 1122.6 C207.4 1122.7 207.4 1122.8 207.5 1122.9 C207.5 1123 207.6 1123.1 207.6 1123.2 C207.7 1123.3 207.7 1123.5 207.7 1123.6 C207.8 1123.7 207.8 1123.8 207.8 1123.9 C207.8 1124 207.8 1124.1 207.8 1124.2 C207.9 1124.3 207.9 1124.4 207.8 1124.5 C207.8 1124.6 207.8 1124.7 207.8 1124.8 C207.8 1124.8 207.8 1124.9 207.7 1125 C207.7 1125.1 207.7 1125.1 207.6 1125.2 C207.6 1125.3 207.5 1125.3 207.5 1125.4 C207.4 1125.4 207.3 1125.5 207.3 1125.5" stroke-width="1.15"/>
<path d="M208 1119.6 C208 1119.6 208.1 1119.5 208.2 1119.5 C208.2 1119.5 208.3 1119.5 208.4 1119.5 C208.4 1119.5 208.5 1119.5 208.6 1119.5 C208.6 1119.5 208.7 1119.5 208.8 1119.5 C208.9 1119.5 208.9 1119.6 209 1119.6 C209.1 1119.6 209.2 1119.7 209.3 1119.7 C209.3 1119.8 209.4 1119.8 209.5 1119.9 C209.6 1119.9 209.6 1120 209.7 1120.1 C209.8 1120.1 209.9 1120.2 209.9 1120.3 C210 1120.4 210.1 1120.5 210.1 1120.6 C210.2 1120.6 210.2 1120.7 210.3 1120.8 C210.4 1120.9 210.4 1121 210.4 1121.1 C210.5 1121.2 210.5 1121.3 210.6 1121.4 C210.6 1121.5 210.6 1121.6 210.7 1121.7 C210.7 1121.8 210.7 1121.9 210.7 1122 C210.8 1122.1 210.8 1122.2 210.8 1122.3 C210.8 1122.3 210.8 1122.4 210.8 1122.5 C210.8 1122.6 210.8 1122.7 210.7 1122.8 C210.7 1122.8 210.7 1122.9 210.7 1123 C210.6 1123.1 210.6 1123.1 210.6 1123.2 C210.5 1123.2 210.5 1123.3 210.4 1123.3 C210.4 1123.4 210.3 1123.4 210.3 1123.4" stroke-width="1.15"/>
<path d="M154.8 407 C154.5 409 153.2 414.2 153.2 418.8 C153.2 423.4 153.5 429.3 154.8 434.6 C156 439.8 158.4 445.4 160.7 450.4 C163 455.3 164.6 460 168.6 464.3 C172.5 468.6 177.5 471.8 184.4 476.1 C191.3 480.4 200.2 485 210.1 490 C220 495 235.4 501.6 243.7 505.8 C252 510 252.4 511.4 260 515 C267.6 518.6 280.1 523.7 289.6 527.4 C299.1 531 311.2 534.7 316.9 536.9 C322.6 539.1 321.8 538.5 324 540.5 C326.2 542.5 328.2 545.8 330 548.8 C331.8 551.8 332.9 555.9 334.7 558.3 C336.5 560.7 333 559.7 340.6 563 C348.1 566.4 370 574.6 380 578.4 C390 582.1 391.6 582.2 400.9 585.5 C410.2 588.8 430 596.1 435.8 598.2"/>
<path d="M435.8 598.2 C438.6 597.2 447.8 593.9 452.3 592.2 C456.8 590.6 458.3 588.9 462.8 588.4 C467.3 587.9 476.6 589.2 479.3 589.4"/>
<path d="M479.3 589.4 C479.3 590.2 476.9 593.1 479.3 594.6 C481.8 596 488.7 599.1 493.9 598.1 C499 597.1 506 591.6 510.4 588.4 C514.7 585.2 517.9 582 520.2 578.8 C522.5 575.5 523.2 572.6 524.2 568.9 C525.2 565.1 526.4 561.8 526.2 556.2 C526 550.7 525.2 541.7 523 535.5 C520.8 529.3 516.5 522.9 512.7 518.9 C508.9 514.9 502.2 512.8 500.1 511.6"/>
<path d="M475.3 589.4 L498.1 581.1"/>
<path d="M157.8 424.6 C158.4 427.3 159.4 435.2 161.7 440.4 C164 445.7 166.7 451.3 171.6 456.2 C176.6 461.2 183.5 465.7 191.4 470.1 C199.3 474.5 207.6 478.7 219.1 482.7 C230.5 486.7 247.2 490.3 260 494.2 C272.8 498.1 284.1 502.5 295.6 506.1 C307.1 509.7 322.1 513.4 328.8 515.6 C335.5 517.8 331.2 516.1 335.9 519.1 C340.6 522.1 353.6 531.1 357.2 533.5"/>
<path d="M155 407 L245 358"/>
<path d="M245 344.3 L245 358"/>
<path d="M191.1 388.2 C191.3 390.7 190.6 397.9 192.1 403 C193.6 408.1 195.4 413.2 200 418.8 C204.6 424.4 211.9 431.3 219.8 436.6 C227.7 441.9 237 445.8 247.5 450.4 C258 455 270.5 459.6 283 464.2 C295.5 468.8 312.3 474.7 322.6 478 C332.9 481.3 339.4 482.6 344.7 484 C350 485.4 351.2 486.1 354.6 486.3 C358.1 486.5 362.1 485.8 365.3 485.1 C368.4 484.4 372.1 482.5 373.5 482"/>
<path d="M198.1 393.1 C199.1 395.4 200.4 401.7 204 407 C207.7 412.3 213.3 419.4 219.8 424.7 C226.4 430 233 434 243.6 438.6 C254.1 443.2 269.9 448 283.1 452.4 C296.3 456.9 313.5 462.5 322.6 465.3 C331.7 468.2 335.1 469 337.6 469.7"/>
<path d="M347.8 472 C349.8 472 354.1 473.2 359.6 472 C365.2 470.8 374.2 467.4 381.1 464.9 C388 462.4 397.8 458.4 401.1 457"/>
<path d="M191.4 388.2 C191.7 386.7 192.6 382.1 193.4 379.3 C194.2 376.5 194.6 373.5 196.4 371.4 C198.2 369.2 203 367.2 204.3 366.4"/>
<path d="M204.3 366.4 L242.1 344.3"/>
<path d="M210.8 361.8 C211.6 360.2 213.9 355 215.7 352.5 C217.5 350 218.9 348.7 221.6 346.6 C224.2 344.5 228.9 341.7 231.5 340 C234.1 338.3 235.1 337.1 237.4 336.3 C239.7 335.5 243.3 335.2 245.3 335.1 C247.3 335 248.4 335.3 249.3 335.7 C250.2 336.1 250.6 337 250.9 337.3"/>
<path d="M227.5 345.4 C227.5 345.9 228.8 347 227.5 348.5 C226.2 350 221.6 352.7 219.6 354.5 C217.6 356.3 216.3 358.6 215.7 359.4"/>
<path d="M231.9 339.6 C234.5 339.3 240.9 337.5 247.4 337.8 C253.9 338 262.3 339 271.1 341.1 C279.9 343.2 295.2 348.7 300 350.2"/>
<path d="M300 350.2 C300.8 350 303.1 349.1 304.7 349 C306.3 348.9 306.3 348.6 309.5 349.6 C312.7 350.6 318.8 352.5 323.7 354.9 C328.6 357.3 333.2 360 339.1 363.8 C345 367.5 355.9 375.1 359.3 377.4"/>
<path d="M380 389 L406.9 404"/>
<path d="M376.8 393.7 C377.4 394.1 376 393.5 380 396.1 C384 398.7 394.5 405.2 400.6 409.5 C406.6 413.9 411.9 417.2 416.4 422.2 C420.8 427.2 424.3 433.8 427.4 439.6 C430.6 445.4 432.7 453 435.3 457 C438 460.9 436.7 459.1 443.2 463.3 C449.8 467.5 467.5 477.8 474.9 482.3 C482.2 486.7 484.1 487.5 487.5 490.2 C490.9 492.8 493.3 494.4 495.4 498.1 C497.5 501.8 499.4 509.9 500.2 512.3"/>
<path d="M500.2 512.3 C502.3 513.4 508.8 515 512.6 518.9 C516.4 522.8 520.8 529.3 523 535.5 C525.2 541.7 525.9 549.3 526.1 556.2 C526.3 563.1 525.5 572.4 524 577 C522.5 581.6 519.2 582.1 517 584 C514.8 585.9 514.4 586 510.5 588.4 C506.6 590.8 496.7 596.5 493.9 598.1"/>
<path d="M231.5 339.9 C236.1 340.4 250.7 341.6 259.3 343.1 C267.9 344.6 276.2 346.6 283 349 C289.8 351.4 293.2 354.5 300 357.3 C306.8 360.1 315.8 361.9 323.7 365.6 C331.6 369.4 339.5 374.7 347.4 379.8 C355.3 384.9 367.2 393.6 371.1 396.4"/>
<path d="M379.2 408.7 C379.3 409 376.2 406.6 380 410.3 C383.8 414 398.4 427.4 402.1 430.9"/>
<path d="M397.4 439.6 C397.4 439.2 397.2 438.2 397.7 437.7 C398.2 437.1 400.1 436.6 400.6 436.4" stroke-width="1.2"/>
<path d="M399 439.6 C399.8 440.6 402.5 443.3 403.7 445.9 C404.9 448.5 405.2 452.2 406.1 455.4 C407 458.5 407.3 461.4 409.2 464.9 C411.2 468.3 415.2 472.8 417.9 475.9 C420.7 479.1 423.5 482 425.8 483.8 C428.2 485.7 424 482 432.2 487 C440.3 492 467.2 508.6 474.9 513.9 C482.5 519.1 477 517.3 478 518.6 C479.1 519.9 480.7 521.3 481.2 521.8"/>
<path d="M481.2 521.8 C482.3 522 485.5 522.1 488 523 C490.5 523.9 493.6 523.7 496 527.2 C498.4 530.7 500.8 537.6 502.2 543.8 C503.6 550 504.3 557.6 504.3 564.5 C504.3 571.4 503.2 580.4 502.2 585.3 C501.2 590.1 498.8 592.2 498.1 593.6"/>
<path d="M387.1 438 C388.6 439.3 393.3 443.5 395.8 445.9 C398.3 448.3 400.7 450.1 402.1 452.2 C403.6 454.3 404 456.4 404.5 458.5 C405 460.6 404.1 462.8 405.3 464.9 C406.5 467 409.5 469.3 411.6 471.2 C413.7 473 416.9 475.1 417.9 475.9"/>
<path d="M433.8 475.9 C440.6 479.9 466.7 494.4 474.9 499.6 C483 504.9 480.7 504.7 482.8 507.5 C484.9 510.4 485.1 514.7 487.5 517 C489.9 519.4 493.8 519.6 497 521.8 C500.2 523.9 504.9 528.6 506.5 530"/>
<path d="M506.5 530 C507.5 533 511.2 541.4 512.6 547.9 C514 554.4 515.1 562.5 514.7 568.7 C514.4 574.9 512.1 581.8 510.5 585.3 C508.9 588.8 505.9 589.2 505 590"/>
<path d="M380 422.2 C381.1 422.4 385.1 421.9 386.3 423.8 C387.5 425.6 387.4 431.1 387.1 433.2 C386.9 435.3 385.9 435.3 384.7 436.4 C383.6 437.5 380.8 439 380 439.6"/>
<path d="M380 463.3 L397.4 453.8"/>
<path d="M380 477.5 L403.7 468"/>
<path d="M402.1 408.7 C404.5 407.4 412.9 402.5 416.4 400.8 C419.8 399.1 420.8 398.3 422.7 398.5 C424.5 398.6 426.6 401.1 427.4 401.6"/>
<path d="M427.4 403.2 C428.2 402.9 427.4 401.5 432.2 401.6 C436.9 401.8 450.9 402.9 455.9 404 C460.9 405 460.1 406.2 462.2 407.9 C464.3 409.7 466.4 411.1 468.5 414.3 C470.6 417.4 472.8 422.7 474.9 426.9 C477 431.1 479.7 435.6 481.2 439.6 C482.6 443.5 483.6 447.7 483.6 450.6 C483.6 453.5 485.5 453.5 481.2 457 C476.8 460.4 461.4 468.8 457.5 471.2"/>
<path d="M408.5 415.8 L429 404.8"/>
<path d="M424.3 422.2 L449.6 407.9"/>
<path d="M433.8 438 L463 420.6"/>
<path d="M447.2 461.7 L479.6 442.7"/>
<path d="M483.6 449.1 C485.8 450.2 494.4 453.8 497 456.2 C499.6 458.5 499 457.1 499.4 463.3 C499.8 469.5 499 485.2 499.4 493.3 C499.8 501.5 501.3 509.1 501.7 512.3"/>
<path d="M469.3 472.8 C469.6 473 466.8 472 470.9 474.3 C475 476.7 489.2 483.3 493.8 487 C498.4 490.7 497.5 492.5 498.6 496.5 C499.6 500.4 499.9 508.3 500.2 510.7"/>
<path d="M246.2 357.4 C250.4 358 263 359 271.1 360.9 C279.2 362.8 290.1 366.7 294.9 368.6 C299.7 370.6 293.2 368.1 300 372.7 C306.8 377.3 326.7 390.5 335.6 396.4 C344.5 402.3 347.9 404.1 353.4 408 C359 412 366.3 418 368.8 420"/>
<path d="M287.8 355.6 C287.2 356 284.6 357 284.2 357.9 C283.7 358.8 285.2 360.4 285.4 360.9" stroke-width="1.2"/>
<path d="M285.4 360.9 C290.1 363.3 305 370.2 313.9 375.2 C322.9 380.3 334.2 388.8 339.1 391.1 C344 393.5 342.6 389.6 343.3 389.3"/>
<path d="M333 466 C332.7 465 330.8 462.6 330.9 460.2 C331 457.8 332.2 453.8 333.7 451.5 C335.2 449.2 333.2 450.4 339.9 446.2 C346.5 442 365.8 430.7 373.5 426.5 C381.3 422.3 384.2 421.9 386.3 421"/>
<path d="M386.3 421 L387.3 436.4 L385.3 438.3 L333 466"/>
<path d="M337.1 484.7 C339.1 486.5 344.9 490.7 348.9 495.4 C352.8 500.2 358 507.9 360.8 513.2 C363.6 518.5 363.5 522.6 365.5 527.4 C367.5 532.1 370.3 538 372.7 541.7 C375.1 545.4 374.3 543.9 380 549.4 C385.7 554.9 397.5 567.5 406.8 574.9 C416.1 582.3 431 590.5 435.8 593.6"/>
<path d="M475.3 525.1 C473.1 526 465.6 528.5 462.1 530.6 C458.7 532.6 455.7 534.6 454.5 537.5 C453.2 540.4 453.8 543.4 454.5 547.9 C455.2 552.4 457.7 558.3 458.7 564.5 C459.7 570.7 460.4 581.8 460.7 585.3"/>
<path d="M269 340.6 C273.2 338.2 289.2 328.6 294 326 C298.8 323.4 294.7 325 297.5 324.8 C300.3 324.6 307.9 324.5 310.6 324.8 C313.4 325.1 311.7 324.7 314 326.5 C316.3 328.3 320.7 332.5 324.4 335.7 C328.1 338.9 333.7 342.9 336.2 345.6 C338.7 348.3 338.5 349.4 339.5 352 C340.5 354.6 341.8 359.8 342.2 361.4"/>
<path d="M282.9 341.6 L308.6 328.8"/>
<path d="M324.4 353.5 L336.2 348.5"/>
<path d="M344 369.3 C344.5 368.2 345.9 364.4 347.5 363 C349.1 361.5 351.7 360.2 353.4 360.6 C355.2 361 356.9 363.2 358.2 365.3 C359.5 367.4 360.9 370.6 361.3 373.2 C361.7 375.9 360.7 379.8 360.6 381.1"/>
<path d="M409.5 833.4 C409.5 827.5 409.2 804.9 409.5 798.2 C409.8 791.5 410.2 794.6 411.4 793.2 C412.5 791.7 414.5 790.5 416.6 789.5 C418.6 788.6 422.5 787.7 423.6 787.3"/>
<path d="M423.6 787.3 L587 881.1"/>
<path d="M587 881.1 C587.5 881.4 589.2 882.2 590 883 C590.8 883.7 591.6 884.6 592 885.7 C592.5 886.8 592.8 879.2 592.9 889.5 C593.1 899.9 593.1 937.6 592.9 947.9 C592.7 958.2 592.4 950.6 591.6 951.6 C590.8 952.6 589.7 953.2 588.2 953.9 C586.7 954.5 584.3 955 582.5 955.5 C580.7 955.9 578 956.2 577.1 956.3"/>
<path d="M577.1 956.3 L552.4 942.5"/>
<path d="M414.8 791.9 L580.2 884.1"/>
<path d="M580.2 884.1 C580.7 884.5 582.2 885.5 583 886.4 C583.7 887.3 584.2 888.3 584.5 889.5 C584.9 890.8 584.9 883.1 585 893.6 C585.1 904.2 585 942.9 585 952.7"/>
<path d="M581.4 954.1 L585 952.7"/>
<path d="M414.3 826.4 L414.3 807.7 L564.2 892.6"/>
<path d="M564.2 892.6 C565.4 893.3 569.6 895.7 571.1 897 C572.7 898.4 573 893 573.4 900.5 C573.8 907.9 573.6 935.1 573.6 942"/>
<path d="M570 943.6 L573.6 942"/>
<path d="M416.6 864.1 L515.5 919.8"/>
<path d="M547.3 939.1 L568.9 945.9"/>
<path d="M414.3 807.7 C419.3 810.5 437.7 820.5 444.5 824.5 C451.3 828.5 452.8 829.6 455.3 831.4 C457.8 833.2 457 833.6 459.3 835.3 C461.6 836.9 466.4 839.9 469.2 841.3 C472 842.7 474.9 843.1 476 843.5"/>
<ellipse cx="386.4" cy="856.1" rx="6.8" ry="10.5" transform="rotate(-15 386.4 856.1)" fill="#fff"/>
<path d="M385.1 852.5 C385.2 852.4 385.4 852.2 385.5 852 C385.6 851.9 385.8 851.8 385.9 851.7 C386.1 851.6 386.3 851.5 386.4 851.4 C386.6 851.3 386.8 851.3 386.9 851.2 C387.1 851.2 387.3 851.2 387.5 851.2 C387.7 851.2 387.9 851.2 388.1 851.3 C388.2 851.3 388.4 851.3 388.6 851.4 C388.8 851.5 389 851.6 389.2 851.7 C389.4 851.8 389.5 851.9 389.7 852.1 C389.9 852.2 390 852.4 390.2 852.6 C390.4 852.7 390.5 852.9 390.7 853.1 C390.8 853.3 391 853.5 391.1 853.7 C391.2 854 391.3 854.2 391.4 854.4 C391.5 854.7 391.6 854.9 391.7 855.1 C391.8 855.4 391.9 855.7 391.9 855.9 C392 856.2 392 856.4 392.1 856.7 C392.1 856.9 392.1 857.2 392.1 857.5 C392.1 857.7 392.1 858 392.1 858.2 C392.1 858.4 392 858.7 392 858.9 C391.9 859.2 391.9 859.4 391.8 859.6 C391.7 859.8 391.6 860 391.5 860.2 C391.4 860.4 391.3 860.6 391.2 860.7 C391.1 860.9 391 861.1 390.8 861.2 C390.7 861.3 390.5 861.4 390.4 861.6 C390.2 861.7 390.1 861.7 389.9 861.8 C389.7 861.9 389.6 861.9 389.4 862 C389.2 862 389 862 388.8 862 C388.6 862 388.4 861.9 388.3 861.9" stroke-width="1.1"/>
<path d="M387 845.9 L404.1 836.8 L432.5 820.9"/>
<path d="M392.7 867.5 L438.2 842.5"/>
<path d="M404.1 836.8 L404.1 841.4 L432.5 826.6"/>
<path d="M395 865.9 L396.1 873.2 L440.5 848.2"/>
<path d="M432.5 820.9 C433.1 820.7 435 819.2 435.9 819.8 C436.9 820.3 437.8 820.5 438.2 824.3 C438.6 828.1 438.2 839.5 438.2 842.5"/>
<path d="M428 823.2 C428.1 823.9 428.3 826.8 429.1 827.7 C429.8 828.7 431 828.9 432.5 828.9 C434 828.9 437.2 827.9 438.2 827.7"/>
<path d="M430.2 822 L442.7 818.6 L445 820.9"/>
<path d="M438.2 842.5 C437 842.7 433.4 842.7 431.4 843.6 C429.3 844.6 426.8 846.3 425.7 848.2 C424.5 850.1 424.2 852.5 424.5 855 C424.9 857.5 426.4 861.1 428 863 C429.5 864.8 431.6 865.6 433.6 865.9 C435.7 866.2 436.3 866.4 440.5 864.5 C444.6 862.7 455.6 856.6 458.6 855"/>
<path d="M430.2 845.9 L451.8 835.7"/>
<path d="M451.8 835.7 C452.6 836.4 455.2 838.1 456.4 840.2 C457.6 842.3 458.6 845.7 459.1 848.2 C459.5 850.6 459.1 853.9 459.1 855"/>
<path d="M458.3 848 L466.9 841.9 L479 848 L470.1 853.9 L458.3 848"/>
<path d="M458.8 848.3 L459.6 871.5 L468.9 875.3 L470.1 853.9"/>
<path d="M462.5 855.2 L462.5 870 L468.2 873" stroke-width="1.2"/>
<path d="M462.5 855.2 L468.2 857.9 L468.5 872.5" stroke-width="1.2"/>
<ellipse cx="488.4" cy="879.3" rx="19" ry="27.3" transform="rotate(-20 488.4 879.3)" fill="#fff"/>
<path d="M492.2 904.4 C491.7 904.3 490.5 904.1 489.6 903.8 C488.7 903.5 487.9 903.2 487 902.7 C486.2 902.3 485.3 901.8 484.5 901.2 C483.7 900.6 482.9 900 482.1 899.3 C481.3 898.6 480.5 897.8 479.8 897 C479.1 896.1 478.4 895.2 477.7 894.3 C477 893.4 476.4 892.4 475.8 891.4 C475.3 890.3 474.7 889.3 474.2 888.2 C473.8 887.1 473.3 886 472.9 884.9 C472.6 883.7 472.2 882.6 472 881.4 C471.7 880.3 471.5 879.1 471.3 878 C471.2 876.8 471.1 875.7 471.1 874.6 C471 873.4 471 872.3 471.1 871.3 C471.2 870.2 471.4 869.1 471.6 868.1 C471.8 867.1 472.2 865.7 472.3 865.2" stroke-width="1.1"/>
<path d="M480.5 854.7 C480.3 856 479 860.1 479 862.6 C479 865.1 479.4 866.7 480.5 869.5 C481.6 872.3 483.6 876.4 485.5 879.4 C487.3 882.4 489.7 885.7 491.4 887.3 C493 889 494.7 889 495.3 889.3" stroke-width="1.1"/>
<path d="M478 868.5 L481.5 867.1 L485 870.5 L485.9 875.5 L483.5 879.4 L480 877.4 L478.5 872.5 L478 868.5" stroke-width="1.2"/>
<path d="M480 869.5 L483.5 868.5" stroke-width="1"/>
<path d="M492.4 891.3 L497.3 887.8 L502.3 890.3 L504.2 894.2 L501.3 896.2 L495.3 894.2 L492.4 891.3" stroke-width="1.2"/>
<path d="M506.2 876.4 L516.1 870 L527.9 877.4 L518.1 883.9 L506.2 876.4"/>
<path d="M507.2 877.4 L508.7 899.2 L518.1 902.1 L518.1 883.9"/>
<path d="M509.7 882.4 L510.4 898.2 L514.6 900.2" stroke-width="1.2"/>
<path d="M509.7 882.4 L514.6 884.5 L514.8 899.7" stroke-width="1.2"/>
<path d="M482.5 845.3 C484.6 846.6 491.9 850.7 495.3 852.7 C498.8 854.8 501.1 855.9 503.2 857.7 C505.4 859.5 506.2 861.9 508.2 863.6 C510.2 865.2 513 866.6 515.1 867.5 C517.2 868.5 520 869.2 521 869.5"/>
<ellipse cx="477.1" cy="839.9" rx="1.8" ry="2.5" transform="rotate(-20 477.1 839.9)"/>
<ellipse cx="515.1" cy="862.6" rx="1.8" ry="2.5" transform="rotate(-20 515.1 862.6)"/>
<ellipse cx="515.1" cy="908.1" rx="1.8" ry="2.5" transform="rotate(-20 515.1 908.1)"/>
<path d="M524.5 916.4 C524.2 914.8 522.3 909.9 522.3 907.3 C522.3 904.6 523.4 902 524.5 900.5 C525.7 898.9 525.3 899.7 529.1 898.2 C532.9 896.7 543.5 892.3 547.3 891.4 C551.1 890.4 550.3 891.7 551.8 892.5 C553.3 893.3 555.6 895.3 556.4 895.9"/>
<path d="M529.1 898.2 C529.8 898.9 532.5 900.8 533.6 902.7 C534.8 904.6 535.7 907.3 535.9 909.5 C536.1 911.8 535 915.2 534.8 916.4"/>
<path d="M533.6 877.7 C534.4 878.5 536.7 880.4 538.2 882.3 C539.7 884.2 541.6 887.2 542.7 889.1 C543.9 891 544.6 892.9 545 893.6"/>
<path d="M517.7 886.8 L533.6 877.7"/>
<ellipse cx="522.7" cy="937.6" rx="6.8" ry="10.4" transform="rotate(-15 522.7 937.6)" fill="#fff"/>
<path d="M520.4 934.9 C520.4 934.9 520.5 934.6 520.6 934.4 C520.7 934.3 520.8 934.1 521 934 C521.1 933.9 521.2 933.8 521.3 933.7 C521.5 933.6 521.6 933.5 521.8 933.4 C521.9 933.3 522.1 933.3 522.2 933.2 C522.4 933.2 522.5 933.2 522.7 933.2 C522.9 933.1 523 933.1 523.2 933.2 C523.4 933.2 523.5 933.2 523.7 933.3 C523.9 933.3 524 933.4 524.2 933.5 C524.4 933.6 524.5 933.7 524.7 933.8 C524.9 933.9 525 934 525.2 934.2 C525.3 934.3 525.5 934.4 525.6 934.6 C525.7 934.8 525.9 934.9 526 935.1 C526.1 935.3 526.2 935.5 526.3 935.7 C526.4 935.9 526.5 936.1 526.6 936.3 C526.7 936.5 526.8 936.8 526.9 937 C526.9 937.2 527 937.4 527 937.7 C527.1 937.9 527.1 938.1 527.1 938.4 C527.1 938.6 527.1 938.8 527.1 939 C527.1 939.3 527.1 939.5 527.1 939.7 C527.1 939.9 527 940.1 527 940.3 C526.9 940.5 526.9 940.7 526.8 940.9 C526.7 941.1 526.6 941.3 526.6 941.4 C526.5 941.6 526.4 941.8 526.2 941.9 C526.1 942 526 942.2 525.9 942.3 C525.8 942.4 525.6 942.5 525.5 942.6 C525.3 942.7 525.2 942.8 525 942.8 C524.9 942.9 524.7 942.9 524.6 942.9 C524.4 943 524.2 943 524.1 943 C523.9 943 523.7 942.9 523.6 942.9" stroke-width="1.1"/>
<path d="M523.7 928.2 L563.2 901.5"/>
<path d="M529.6 947 L569.2 923.2"/>
<path d="M563.2 901.5 C564.1 902.3 566.9 904.1 568.2 906.4 C569.4 908.7 570.5 912.5 570.7 915.3 C570.8 918.1 569.4 921.9 569.2 923.2"/>
<path d="M522.7 921.8 L523.7 928.2"/>
<path d="M522.7 921.8 L561.3 900.5 L564.2 901.5"/>
<path d="M531.6 946 L532.6 951.9 L563.2 936.1"/>
<path d="M563.2 927.2 L563.2 936.1"/>
<path d="M552.4 942.5 L564.2 936.1"/>
<path d="M552.4 888.2 C552.5 888.4 552 888.8 553.4 889.6 C554.7 890.5 559.1 891.1 560.3 893.1 C561.4 895.1 560.3 900.1 560.3 901.5"/>
<path d="M563.2 892.6 C564.6 893.3 569.4 895.4 571.1 896.6 C572.9 897.7 573.2 891.9 573.6 899.5 C574 907.1 574 934.9 573.6 942 C573.2 949.2 572.5 943 571.1 942.5 C569.7 942 566.2 939.6 565.2 939.1"/>
<path d="M636.6 740.1 C636.5 730.2 635.9 692.1 636.1 680.8 C636.3 669.6 636.5 674.7 637.8 672.5 C639.1 670.4 641.5 668.9 643.7 667.8 C645.9 666.7 648.5 666.2 650.8 666.1 C653.2 666 656.8 666.9 657.9 667.1"/>
<path d="M657.9 667.1 L814.5 750.8"/>
<path d="M814.5 750.8 C815.3 751.6 818.5 753.4 819.7 755.5 C820.9 757.7 821.3 751.4 821.6 763.8 C821.9 776.3 822 818.2 821.6 830.2 C821.2 842.3 820.6 834.9 819.2 836.2 C817.8 837.4 815.1 837.7 813.3 837.8 C811.5 837.9 809.3 837 808.5 836.9"/>
<path d="M808.5 836.9 L701.8 778.5"/>
<path d="M685.2 769.3 L659.1 755.1"/>
<path d="M636.6 740.1 C636.9 741.1 637.3 744.7 638.5 746 C639.7 747.4 641.7 748 643.7 748.4 C645.8 748.8 649.6 748.4 650.8 748.4"/>
<path d="M642.5 737.7 C642.5 728.1 642.3 689.8 642.5 679.6 C642.7 669.4 643 677.4 643.7 676.6 C644.4 675.8 645.4 675.1 646.6 674.9 C647.7 674.7 650.1 675.5 650.8 675.6"/>
<path d="M650.8 675.6 L807.4 759.1"/>
<path d="M807.4 759.1 C808.1 759.7 811 761.1 812.1 762.6 C813.2 764.2 813.7 757.7 814 768.6 C814.3 779.4 814.3 817.4 814 827.9 C813.7 838.3 813.2 830.7 812.1 831.4 C811 832.1 808.1 832 807.4 832.1"/>
<path d="M807.4 832.1 L789.6 822.6"/>
<path d="M659.1 749.6 L684 763.4"/>
<path d="M659.1 749.6 L659.1 755.5"/>
<path d="M650.8 748.4 L650.8 742.5 L655.6 738.9 L655.6 731.8 L663.9 735.4 L663.9 744.9 L659.1 748.4"/>
<path d="M655.6 738.9 L659.1 740.1 L663.9 738.2" stroke-width="1.1"/>
<path d="M680.5 718.9 C680.7 718.8 681.1 718.3 681.5 718 C681.8 717.7 682.2 717.4 682.6 717.2 C682.9 716.9 683.3 716.7 683.7 716.5 C684.1 716.4 684.5 716.2 685 716.1 C685.4 716 685.8 715.9 686.2 715.9 C686.6 715.9 687.1 715.9 687.5 715.9 C687.9 715.9 688.4 716 688.8 716.1 C689.2 716.2 689.6 716.3 690 716.5 C690.4 716.7 690.8 716.9 691.2 717.1 C691.5 717.4 691.9 717.6 692.3 717.9 C692.6 718.2 692.9 718.6 693.2 718.9 C693.5 719.3 693.8 719.6 694.1 720 C694.3 720.4 694.6 720.9 694.8 721.3 C695 721.7 695.1 722.2 695.3 722.7 C695.4 723.1 695.6 723.6 695.7 724.1 C695.8 724.6 695.8 725.1 695.9 725.6 C695.9 726.1 695.9 726.6 695.9 727.1 C695.8 727.6 695.8 728.1 695.7 728.5 C695.6 729 695.5 729.5 695.3 730 C695.2 730.4 695 730.9 694.8 731.3 C694.6 731.8 694.4 732.2 694.1 732.6 C693.9 733 693.6 733.4 693.3 733.7 C693 734.1 692.7 734.4 692.3 734.7 C692 735 691.6 735.3 691.2 735.5 C690.9 735.8 690.5 736 690.1 736.2 C689.7 736.4 689.3 736.5 688.9 736.6 C688.4 736.7 688 736.8 687.6 736.8 C687.2 736.9 686.7 736.9 686.3 736.8 C685.9 736.8 685.4 736.7 685 736.6 C684.6 736.5 684 736.3 683.8 736.2"/>
<path d="M710.8 739.3 C711 738.7 711.4 736.9 711.8 735.8 C712.2 734.7 712.6 733.6 713.1 732.6 C713.6 731.6 714.2 730.6 714.8 729.7 C715.4 728.9 716.1 728 716.8 727.3 C717.5 726.5 718.3 725.9 719.1 725.3 C719.9 724.7 720.7 724.2 721.5 723.8 C722.4 723.3 723.3 723 724.2 722.8 C725.1 722.5 726 722.4 727 722.3 C727.9 722.3 728.9 722.3 729.8 722.4 C730.8 722.5 731.7 722.7 732.7 723 C733.6 723.4 734.6 723.7 735.5 724.2 C736.4 724.7 737.3 725.3 738.2 725.9 C739 726.6 739.9 727.3 740.7 728.1 C741.5 728.9 742.3 729.7 743.1 730.7 C743.8 731.6 744.5 732.6 745.1 733.7 C745.8 734.7 746.4 735.8 746.9 737 C747.5 738.1 748 739.3 748.4 740.5 C748.8 741.8 749.2 743 749.5 744.3 C749.8 745.6 750 746.9 750.2 748.2 C750.4 749.5 750.5 750.8 750.5 752.1 C750.6 753.4 750.6 754.7 750.5 755.9 C750.4 757.2 750.2 758.5 750 759.7 C749.8 760.9 749.5 762.1 749.1 763.3 C748.8 764.4 748.4 765.5 747.9 766.6 C747.4 767.6 746.9 768.6 746.3 769.5 C745.7 770.5 745.1 771.3 744.4 772.1 C743.7 772.9 743 773.6 742.2 774.3 C741.5 774.9 740.7 775.5 739.8 776 C739 776.4 738.1 776.8 737.2 777.1 C736.3 777.4 735.4 777.6 734.5 777.8 C733.5 777.9 732.1 777.8 731.6 777.8"/>
<path d="M763.9 767.1 C764 766.9 764.5 766.4 764.8 766.1 C765.1 765.8 765.4 765.5 765.8 765.3 C766.2 765.1 766.5 764.8 766.9 764.7 C767.3 764.5 767.7 764.4 768.1 764.2 C768.5 764.1 768.9 764.1 769.3 764 C769.7 764 770.1 764 770.5 764 C770.9 764.1 771.3 764.1 771.7 764.2 C772.1 764.3 772.5 764.5 772.8 764.7 C773.2 764.8 773.6 765 773.9 765.3 C774.3 765.5 774.6 765.8 775 766.1 C775.3 766.4 775.6 766.7 775.9 767.1 C776.2 767.4 776.4 767.8 776.7 768.2 C776.9 768.6 777.1 769 777.3 769.4 C777.5 769.9 777.7 770.3 777.8 770.8 C778 771.3 778.1 771.7 778.2 772.2 C778.3 772.7 778.3 773.2 778.4 773.7 C778.4 774.2 778.4 774.7 778.4 775.2 C778.3 775.7 778.3 776.2 778.2 776.7 C778.1 777.2 778 777.7 777.9 778.1 C777.7 778.6 777.6 779.1 777.4 779.5 C777.2 779.9 777 780.4 776.7 780.8 C776.5 781.2 776.2 781.5 775.9 781.9 C775.6 782.2 775.3 782.6 775 782.9 C774.7 783.2 774.4 783.4 774 783.7 C773.6 783.9 773.3 784.1 772.9 784.3 C772.5 784.5 772.1 784.6 771.7 784.7 C771.4 784.9 770.9 784.9 770.5 785 C770.1 785 769.7 785 769.3 785 C768.9 785 768.5 784.9 768.1 784.8 C767.7 784.7 767.2 784.4 767 784.4"/>
<path d="M731.5 737.7 C729.5 740.1 724.7 747.6 719.6 752 C714.5 756.3 708.1 759.5 700.6 763.8 C693.1 768.2 678.9 775.7 674.5 778.1"/>
<path d="M737.4 746 C735.6 748.2 732.1 754.5 726.7 759.1 C721.4 763.6 713.7 768.6 705.4 773.3 C697.1 778.1 681.7 785.2 676.9 787.5"/>
<path d="M736.2 710.5 C737.8 710.3 742.1 709 745.7 709.3 C749.2 709.6 754 710.9 757.5 712.1 C761.1 713.4 764.3 715 767 716.9 C769.8 718.8 772.4 721 774.1 723.5 C775.9 726 777.1 730.4 777.7 731.8"/>
<path d="M767 714.5 L795.5 698.6"/>
<path d="M781.3 733 L807.4 719.2"/>
<path d="M795.5 698.6 C796.7 698.7 800.4 697.9 802.6 699.3 C804.8 700.7 807.5 704.3 808.5 706.9 C809.5 709.6 808.7 713.2 808.5 715.2 C808.3 717.3 807.5 718.6 807.4 719.2"/>
<path d="M807.4 702.6 L845.3 690.8"/>
<path d="M809.7 712.1 L847.7 700.3"/>
<path d="M845.3 690.8 C845.8 691.3 847.5 692.8 848.1 693.9 C848.7 695 848.9 696.4 848.9 697.4 C848.8 698.5 847.9 699.8 847.7 700.3"/>
<ellipse cx="847.2" cy="697" rx="2" ry="3"/>
<path d="M816.8 748.4 L860 724"/>
<ellipse cx="634.1" cy="802.7" rx="23" ry="27.5" transform="rotate(-22 634.1 802.7)" fill="#fff"/>
<path d="M620.6 818 C620.3 817.5 619.3 816.1 618.6 815.1 C618 814.1 617.5 813.1 617 812 C616.5 810.9 616 809.8 615.7 808.7 C615.3 807.6 615 806.4 614.7 805.3 C614.5 804.2 614.3 803 614.2 801.9 C614.1 800.7 614.1 799.6 614.1 798.4 C614.1 797.3 614.2 796.2 614.4 795.1 C614.6 794 614.8 792.9 615.1 791.9 C615.4 790.9 615.8 789.9 616.2 789 C616.7 788 617.2 787.1 617.7 786.3 C618.3 785.5 618.9 784.7 619.6 783.9 C620.2 783.2 620.9 782.6 621.7 782 C622.5 781.4 623.3 780.9 624.1 780.5 C624.9 780 625.8 779.7 626.7 779.4 C627.6 779.1 628.6 778.9 629.5 778.8 C630.5 778.7 631.4 778.6 632.4 778.7 C633.4 778.7 634.4 778.8 635.3 779 C636.3 779.2 637.3 779.5 638.3 779.9 C639.2 780.2 640.2 780.7 641.1 781.2 C642.1 781.7 643 782.3 643.9 782.9 C644.8 783.6 645.6 784.3 646.4 785.1 C647.2 785.9 648 786.7 648.8 787.6 C649.5 788.5 650.2 789.5 650.8 790.4 C651.4 791.4 652 792.5 652.5 793.5 C653 794.6 653.5 795.7 653.9 796.8 C654.3 797.9 654.6 799 654.9 800.2 C655.1 801.3 655.3 802.5 655.5 803.6 C655.6 804.8 655.6 805.9 655.6 807.1 C655.6 808.2 655.5 809.3 655.4 810.4 C655.2 811.5 655 812.6 654.7 813.6 C654.4 814.7 654.1 815.7 653.7 816.6 C653.3 817.6 652.5 818.9 652.2 819.3" stroke-width="1.1"/>
<path d="M616.8 814.3 C616.7 814.1 616.3 813.3 616.1 812.8 C615.9 812.3 615.7 811.8 615.6 811.2 C615.5 810.7 615.3 810.1 615.3 809.6 C615.2 809 615.1 808.5 615.1 807.9 C615.1 807.4 615.1 806.8 615.2 806.3 C615.2 805.7 615.3 805.2 615.5 804.7 C615.6 804.2 615.7 803.7 615.9 803.2 C616.1 802.7 616.3 802.3 616.6 801.8 C616.8 801.4 617.1 801 617.4 800.6 C617.7 800.2 618 799.8 618.4 799.5 C618.7 799.2 619.1 798.9 619.5 798.6 C619.9 798.4 620.3 798.1 620.7 798 C621.2 797.8 621.6 797.6 622.1 797.5 C622.5 797.4 623 797.3 623.5 797.3 C623.9 797.2 624.4 797.2 624.9 797.3 C625.4 797.3 625.8 797.4 626.3 797.5 C626.8 797.6 627.3 797.8 627.7 797.9 C628.2 798.1 628.7 798.4 629.1 798.6 C629.6 798.9 630 799.2 630.4 799.5 C630.8 799.8 631.2 800.2 631.6 800.6 C632 801 632.4 801.4 632.7 801.8 C633 802.2 633.3 802.7 633.6 803.2 C633.9 803.7 634.2 804.2 634.4 804.7 C634.6 805.2 634.8 805.7 635 806.3 C635.2 806.8 635.3 807.3 635.4 807.9 C635.5 808.4 635.6 809 635.6 809.5 C635.6 810.1 635.6 810.6 635.6 811.2 C635.6 811.7 635.5 812.3 635.4 812.8 C635.3 813.3 635.2 813.8 635 814.3 C634.8 814.8 634.6 815.3 634.4 815.7 C634.2 816.2 633.9 816.6 633.7 817 C633.4 817.4 633.1 817.8 632.7 818.2 C632.4 818.5 632 818.8 631.7 819.1 C631.3 819.4 630.9 819.6 630.5 819.9 C630 820.1 629.6 820.3 629.2 820.4 C628.7 820.5 628 820.7 627.8 820.7"/>
<path d="M614.3 799.5 C614.4 798.6 613.8 795.7 615.1 794 C616.4 792.3 620 789.9 622.2 789.2 C624.5 788.6 627.5 789.9 628.5 790"/>
<path d="M611.9 793.2 L622.2 788.5 L625.4 785.3 L631.7 786.1 L638 788.5 L638 793.2 L628.5 799.5" stroke-width="1.1"/>
<path d="M634.9 815.3 L642.8 809 L649.1 807.4 L650.7 812.2 L644.3 818.5 L636.4 821.7" stroke-width="1.1"/>
<path d="M642.8 777.4 L664.9 767.9"/>
<path d="M664.9 767.9 C666 768.2 669.5 768.2 671.2 769.5 C672.9 770.8 674.4 773.4 675.2 775.8 C676 778.2 675.8 782.4 676 783.7"/>
<path d="M676 783.7 L676 801.1 L663.3 807.4"/>
<path d="M660.2 788.5 L676 782.1" stroke-width="1.1"/>
<path d="M660.2 794 L676 787.7" stroke-width="1.1"/>
<path d="M660.2 799.5 L676 793.2" stroke-width="1.1"/>
<path d="M660.2 805.1 L676 798.7" stroke-width="1.1"/>
<path d="M674.4 775.8 L700 764.7"/>
<path d="M676 783.7 L700 775"/>
<path d="M581.5 819.9 C579.2 820.6 572.3 822.4 567.7 824.4 C563.1 826.4 556.8 829.9 553.8 832 C550.8 834.1 550.6 834.6 549.7 836.8 C548.8 839 548 842.5 548.3 845.1 C548.6 847.8 549.9 850.8 551.8 852.7 C553.6 854.7 556.7 856.3 559.4 856.9 C562 857.5 564 857.5 567.7 856.2 C571.4 854.9 577.6 851.6 581.5 849.3 C585.4 847 589.2 844.2 591.2 842.4 C593.1 840.5 592.9 838.9 593.3 838.2"/>
<path d="M576 825.1 C576 826.1 575.9 829.4 576.3 831.3 C576.8 833.1 577.4 834.5 578.7 836.1 C580.1 837.7 583.3 840.2 584.3 841" stroke-width="1.2"/>
<path d="M554.9 851 C555.9 851.5 558.6 853.8 560.8 854.1 C562.9 854.4 564.4 854.2 567.7 852.7 C570.9 851.2 578 846.4 580.1 845.1" stroke-width="1.2"/>
<path d="M581.5 819.9 C584.5 818.3 596 812 599.5 810.5 C602.9 809.1 601.6 810.6 602.3 811.2 C602.9 811.8 602.9 812.7 603.6 814 C604.3 815.3 605.9 817.5 606.4 818.8 C606.9 820.2 606.7 821.3 606.4 822.3 C606.1 823.3 604.7 823.6 604.3 825.1 C604 826.6 604.6 830 604.3 831.3 C604.1 832.6 604.8 831.6 602.9 832.7 C601.1 833.7 594.9 836.7 593.3 837.5"/>
<path d="M586.3 821.3 L601.6 813.3" stroke-width="1.2"/>
<path d="M591.2 824.4 L605.4 817.8" stroke-width="1.2"/>
<path d="M594.6 829.2 L604.3 825.1" stroke-width="1.2"/>
<path d="M587 821.6 C587.7 822.2 590.1 823.9 591.2 825.1 C592.2 826.2 592.8 827 593.3 828.5 C593.7 830 593.8 833.1 594 834.1" stroke-width="1.2"/>
<path d="M313.2 908.6 C313.2 899.4 312.9 863.3 313.2 853.4 C313.5 843.6 314.2 850.5 315 849.5 C315.9 848.6 317.2 848 318.4 847.7 C319.6 847.5 321.6 848.2 322.2 848.3"/>
<path d="M322.2 848.3 L484.1 941.3"/>
<path d="M484.1 941.3 C484.7 941.8 487.1 943.2 487.9 944.6 C488.8 946 489 939.8 489.2 949.8 C489.4 959.7 489.6 994.6 489.2 1004.5 C488.9 1014.3 488.2 1007.9 487.2 1008.8 C486.1 1009.8 484.2 1010.1 482.8 1010.1 C481.4 1010.1 479.6 1009.1 479 1008.8"/>
<path d="M479 1008.8 L318.4 915.6"/>
<path d="M318.4 915.6 C317.7 915.2 315.4 914.2 314.5 913 C313.7 911.9 313.4 909.4 313.2 908.6"/>
<path d="M324.8 904.8 C324.7 898.6 324.2 874.2 324.3 867.5 C324.4 860.9 324.6 865.5 325.3 865 C326 864.4 328.1 864.3 328.6 864.2"/>
<path d="M328.6 864.2 C331.9 866 343.2 872.1 347.9 875.2 C352.6 878.4 354.3 880.2 356.9 882.9 C359.5 885.7 361.4 889.7 363.3 891.9 C365.3 894.2 365.9 894.8 368.5 896.6 C371 898.4 375.3 901.9 378.7 902.7 C382.2 903.6 384.7 900.9 389 901.7 C393.3 902.5 400.2 904.7 404.4 907.4 C408.7 910 411.5 914.4 414.7 917.6 C417.9 920.8 420.3 924.1 423.7 926.6 C427.1 929.1 427.1 928.6 435.3 932.5 C443.4 936.5 465.9 946.8 472.5 950.5 C479.2 954.2 474.7 947.3 475.1 954.9 C475.5 962.5 475.5 988.7 475.1 996 C474.7 1003.3 473.6 998.4 472.5 998.6 C471.5 998.8 470.6 998.6 468.7 997.3 C466.7 996 464.4 993.6 461 990.9 C457.5 988.1 452 984.2 448.1 980.6 C444.3 976.9 441.1 972.4 437.8 969 C434.6 965.6 432.3 962.3 428.8 960 C425.4 957.8 421.4 956.7 417.3 955.4 C413.2 954.1 408.3 954.1 404.4 952.3 C400.6 950.5 397.6 947.8 394.2 944.6 C390.7 941.4 386.9 935.8 383.9 933.1 C380.9 930.3 379.2 929.1 376.2 927.9 C373.2 926.7 369.5 926.8 365.9 925.9 C362.3 924.9 358.2 923.7 354.3 922.3 C350.5 920.8 347.3 919.3 342.8 917.1 C338.3 915 330.4 911.5 327.4 909.4 C324.4 907.4 325.2 905.6 324.8 904.8"/>
<path d="M342.8 919.7 C344.5 920.5 350.1 923.9 353.1 924.8 C356.1 925.8 359.5 925.3 360.8 925.3" stroke-width="1.1"/>
<path d="M369.8 926.6 C370.8 927.3 373.8 928.6 376.2 930.5 C378.5 932.4 382.6 936.9 383.9 938.2" stroke-width="1.1"/>
<path d="M399.3 952.3 C401 953 406.2 955.7 409.6 956.2 C413 956.6 418.1 955.1 419.9 954.9" stroke-width="1.1"/>
<path d="M422.4 957.5 C424.1 958.5 430.1 961.5 432.7 963.9 C435.3 966.2 437 970.3 437.8 971.6" stroke-width="1.1"/>
<path d="M463.5 989.6 L471.2 994.7" stroke-width="1.1"/>
<path d="M320.9 868.8 L321.7 879.1" stroke-width="1.1"/>
<path d="M332.5 861.1 L345.3 866.2" stroke-width="1.1"/>
<path d="M371.2 890.8 C371.2 890.8 371.4 890.7 371.5 890.6 C371.6 890.6 371.7 890.5 371.8 890.5 C371.9 890.5 372 890.5 372.1 890.4 C372.2 890.4 372.3 890.4 372.4 890.4 C372.5 890.4 372.6 890.4 372.7 890.5 C372.8 890.5 372.9 890.5 373 890.6 C373.1 890.6 373.2 890.7 373.3 890.7 C373.4 890.8 373.5 890.8 373.6 890.9 C373.7 891 373.8 891.1 373.9 891.1 C373.9 891.2 374 891.3 374.1 891.4 C374.2 891.5 374.2 891.6 374.3 891.7 C374.3 891.9 374.4 892 374.4 892.1 C374.5 892.2 374.5 892.3 374.5 892.5 C374.6 892.6 374.6 892.7 374.6 892.8 C374.6 893 374.6 893.1 374.6 893.2 C374.6 893.4 374.6 893.5 374.6 893.6 C374.6 893.7 374.6 893.9 374.5 894 C374.5 894.1 374.5 894.2 374.4 894.4 C374.4 894.5 374.3 894.6 374.3 894.7 C374.2 894.8 374.2 894.9 374.1 895 C374 895.1 373.9 895.2 373.9 895.3 C373.8 895.4 373.7 895.5 373.6 895.5 C373.5 895.6 373.4 895.7 373.3 895.7 C373.2 895.8 373.1 895.8 373 895.9 C372.9 895.9 372.8 896 372.7 896 C372.6 896 372.5 896 372.4 896 C372.3 896 372.2 896 372.1 896 C372 896 371.9 896 371.8 895.9 C371.7 895.9 371.6 895.9 371.5 895.8 C371.4 895.8 371.2 895.7 371.2 895.7" stroke-width="1.1"/>
<path d="M423.8 920.4 C423.9 920.3 424 920.2 424.1 920.2 C424.2 920.1 424.3 920.1 424.4 920.1 C424.5 920 424.6 920 424.8 920 C424.9 920 425 920 425.1 920 C425.2 920 425.3 920 425.4 920 C425.5 920 425.6 920.1 425.7 920.1 C425.8 920.2 425.9 920.2 426 920.3 C426.1 920.3 426.2 920.4 426.3 920.5 C426.4 920.5 426.5 920.6 426.5 920.7 C426.6 920.8 426.7 920.9 426.8 921 C426.8 921.1 426.9 921.2 426.9 921.3 C427 921.4 427.1 921.5 427.1 921.6 C427.1 921.8 427.2 921.9 427.2 922 C427.2 922.1 427.3 922.3 427.3 922.4 C427.3 922.5 427.3 922.6 427.3 922.8 C427.3 922.9 427.3 923 427.3 923.2 C427.3 923.3 427.2 923.4 427.2 923.5 C427.2 923.7 427.1 923.8 427.1 923.9 C427.1 924 427 924.1 426.9 924.3 C426.9 924.4 426.8 924.5 426.8 924.6 C426.7 924.7 426.6 924.8 426.5 924.9 C426.5 924.9 426.4 925 426.3 925.1 C426.2 925.2 426.1 925.2 426 925.3 C425.9 925.3 425.8 925.4 425.7 925.4 C425.6 925.5 425.5 925.5 425.4 925.5 C425.3 925.6 425.2 925.6 425.1 925.6 C425 925.6 424.9 925.6 424.8 925.6 C424.6 925.5 424.5 925.5 424.4 925.5 C424.3 925.5 424.2 925.4 424.1 925.4 C424 925.3 423.9 925.2 423.8 925.2" stroke-width="1.1"/>
<path d="M371.2 934.5 C371.2 934.5 371.4 934.4 371.5 934.3 C371.6 934.3 371.7 934.2 371.8 934.2 C371.9 934.2 372 934.1 372.1 934.1 C372.2 934.1 372.3 934.1 372.4 934.1 C372.5 934.1 372.6 934.1 372.7 934.1 C372.8 934.2 372.9 934.2 373 934.2 C373.1 934.3 373.2 934.3 373.3 934.4 C373.4 934.4 373.5 934.5 373.6 934.6 C373.7 934.7 373.8 934.7 373.9 934.8 C373.9 934.9 374 935 374.1 935.1 C374.2 935.2 374.2 935.3 374.3 935.4 C374.3 935.5 374.4 935.6 374.4 935.8 C374.5 935.9 374.5 936 374.5 936.1 C374.6 936.3 374.6 936.4 374.6 936.5 C374.6 936.6 374.6 936.8 374.6 936.9 C374.6 937 374.6 937.2 374.6 937.3 C374.6 937.4 374.6 937.6 374.5 937.7 C374.5 937.8 374.5 937.9 374.4 938 C374.4 938.2 374.3 938.3 374.3 938.4 C374.2 938.5 374.2 938.6 374.1 938.7 C374 938.8 373.9 938.9 373.9 939 C373.8 939.1 373.7 939.2 373.6 939.2 C373.5 939.3 373.4 939.4 373.3 939.4 C373.2 939.5 373.1 939.5 373 939.6 C372.9 939.6 372.8 939.6 372.7 939.7 C372.6 939.7 372.5 939.7 372.4 939.7 C372.3 939.7 372.2 939.7 372.1 939.7 C372 939.7 371.9 939.7 371.8 939.6 C371.7 939.6 371.6 939.6 371.5 939.5 C371.4 939.5 371.2 939.4 371.2 939.3" stroke-width="1.1"/>
<path d="M423.8 964 C423.9 964 424 963.9 424.1 963.9 C424.2 963.8 424.3 963.8 424.4 963.7 C424.5 963.7 424.6 963.7 424.8 963.7 C424.9 963.7 425 963.7 425.1 963.7 C425.2 963.7 425.3 963.7 425.4 963.7 C425.5 963.7 425.6 963.8 425.7 963.8 C425.8 963.8 425.9 963.9 426 963.9 C426.1 964 426.2 964.1 426.3 964.1 C426.4 964.2 426.5 964.3 426.5 964.4 C426.6 964.5 426.7 964.6 426.8 964.7 C426.8 964.8 426.9 964.9 426.9 965 C427 965.1 427.1 965.2 427.1 965.3 C427.1 965.4 427.2 965.6 427.2 965.7 C427.2 965.8 427.3 965.9 427.3 966.1 C427.3 966.2 427.3 966.3 427.3 966.5 C427.3 966.6 427.3 966.7 427.3 966.8 C427.3 967 427.2 967.1 427.2 967.2 C427.2 967.4 427.1 967.5 427.1 967.6 C427.1 967.7 427 967.8 426.9 967.9 C426.9 968 426.8 968.2 426.8 968.3 C426.7 968.4 426.6 968.4 426.5 968.5 C426.5 968.6 426.4 968.7 426.3 968.8 C426.2 968.8 426.1 968.9 426 969 C425.9 969 425.8 969.1 425.7 969.1 C425.6 969.2 425.5 969.2 425.4 969.2 C425.3 969.2 425.2 969.2 425.1 969.3 C425 969.3 424.9 969.3 424.8 969.2 C424.6 969.2 424.5 969.2 424.4 969.2 C424.3 969.1 424.2 969.1 424.1 969.1 C424 969 423.9 968.9 423.8 968.9" stroke-width="1.1"/>
<path d="M301.4 921.7 L306.5 924.9 L306.5 932 L311.3 934.8 L311.7 940.7 L315.2 942.7 L315.6 950.6 L313.2 951.8"/>
<path d="M301.4 921.7 C296.8 925.1 280.7 936.5 273.7 941.9 C266.7 947.2 262.6 950.7 259.5 953.7 C256.4 956.8 255.8 957.8 255.1 960.1 C254.5 962.3 254.7 964.9 255.5 967.2 C256.4 969.4 258.6 971.9 260.3 973.5 C262 975.1 264.9 976.1 265.8 976.7"/>
<path d="M302.6 927.3 L277.7 945.8" stroke-width="1.1"/>
<path d="M306.5 932 C301.6 934.4 283.9 942.3 276.9 946.6 C269.8 950.9 266.7 955.3 264.2 957.7 C261.7 960.1 261.9 959.8 261.9 960.8 C261.8 961.9 262.8 963.2 263.8 964 C264.9 964.8 267.5 965.3 268.2 965.6"/>
<path d="M311.7 940.7 L268.2 965.6"/>
<path d="M313.2 944.2 L305.3 949" stroke-width="1.1"/>
<path d="M254.7 964 C254.9 965.1 254.9 968.5 255.9 970.3 C257 972.2 259.4 973.8 261.1 975 C262.7 976.2 265 977 265.8 977.5"/>
<path d="M315.6 954.5 L325.9 948.6 L330 951.4"/>
<path d="M315.6 950.6 L315.6 954.5"/>
<path d="M261.3 973.5 L384.1 1043.7"/>
<path d="M384.1 1043.7 C385.6 1044.4 389.9 1047.1 392.8 1048 C395.7 1048.9 400.1 1048.9 401.5 1049.1"/>
<path d="M401.5 1049.1 L449.3 1029.1"/>
<path d="M268.2 965.6 L384.1 1036.1"/>
<path d="M384.1 1036.1 C385.6 1036.8 390.3 1039.5 392.8 1040.4 C395.4 1041.3 398.3 1041.3 399.3 1041.5"/>
<path d="M399.3 1041.5 L450.4 1010.4"/>
<path d="M395 1040.4 L450.4 1014.3"/>
<path d="M450.4 1010.4 L454.8 1012.2 L454.8 1023 L450.4 1025.2 L450.4 1029.1 L401.5 1049.1"/>
<path d="M397.2 1044.8 L450.4 1025.2" stroke-width="1.1"/>
<path d="M325.9 948.6 L429.8 1006.7 L429.8 1012.2 L421.1 1013.3 L425.4 1017.6"/>
<path d="M317.6 986.4 C318 986.2 318.9 985 319.7 984.7 C320.5 984.4 319.2 983.2 322.5 984.7 C325.7 986.3 333.5 990.9 339.1 994.1 C344.6 997.2 352.5 1001.7 355.7 1003.7 C358.8 1005.8 357.4 1005.5 357.7 1006.5 C358 1007.5 357.4 1009.4 357.4 1010" stroke-width="1.2"/>
<path d="M322.5 983.7 C322.9 983.4 324 982.2 324.9 981.9 C325.7 981.7 324.4 980.3 327.6 981.9 C330.9 983.6 339 988.5 344.6 991.6 C350.2 994.8 358.2 998.8 361.2 1001 C364.2 1003.1 362.4 1003.4 362.6 1004.4 C362.7 1005.5 362.3 1006.7 362.2 1007.2" stroke-width="1.2"/>
<path d="M327.3 979.9 C327.8 979.6 329 978.6 330.1 978.5 C331.1 978.4 330.3 977.6 333.5 979.2 C336.7 980.8 344.1 985.1 349.4 988.2 C354.7 991.2 362.3 995.5 365.3 997.5 C368.3 999.5 367.1 999.1 367.4 1000.3 C367.7 1001.5 367.1 1004 367.1 1004.8" stroke-width="1.2"/>
<path d="M320 989.2 L353.6 1008.6" stroke-width="1.2"/>
<path d="M350.1 975 C349.8 975.4 348.5 976.7 348.4 977.5 C348.3 978.2 346.4 977.6 349.4 979.5 C352.5 981.4 362.9 987.4 366.7 988.9 C370.5 990.4 371.3 988.6 372.3 988.5" stroke-width="1.2"/>
<path d="M355.7 971.6 C355.4 972 354 973.2 353.9 974 C353.8 974.7 352.1 974.2 355 976.1 C357.8 977.9 367.2 983.5 370.9 985.1 C374.6 986.6 376.1 985.3 377.1 985.4" stroke-width="1.2"/>
<path d="M358.4 973.3 L375.7 983.7" stroke-width="1.2"/>
<path d="M136.9 950.9 C138.6 949.2 144 943.5 146.8 941 C149.6 938.5 151.9 936.8 153.7 935.8 C155.6 934.9 157.2 935.4 157.9 935.3"/>
<path d="M157.9 935.3 L322 1030.8"/>
<path d="M322 1030.8 C323.5 1032.3 329.2 1036.8 330.9 1039.6 C332.6 1042.4 332.1 1037.6 332.4 1047.5 C332.7 1057.4 333.1 1089.4 332.9 1098.9 C332.6 1108.4 334.2 1101.8 330.9 1104.4 C327.6 1107 316.7 1112.7 313.1 1114.7 C309.5 1116.7 310.9 1116.5 309.2 1116.2 C307.5 1115.9 304.2 1113.4 303.2 1112.8"/>
<path d="M137.8 952 L310.5 1048.5"/>
<path d="M146.8 949.6 L308.2 1042.6"/>
<path d="M316.6 1046.1 L326.5 1040.1"/>
<path d="M315.1 1055 L315.6 1109.8"/>
<path d="M139.4 953.3 C136.1 955.8 124.8 963.8 119.6 968.2 C114.5 972.5 111.3 975.4 108.5 979.3 C105.7 983.2 104.1 986.3 102.8 991.6 C101.6 997 101.6 1004.8 101.1 1011.4 C100.6 1018 99.3 1026.6 99.9 1031.2 C100.5 1035.7 100.7 1035.1 104.8 1038.6 C108.9 1042.1 117.2 1047.2 124.6 1052.2 C132 1057.1 138.6 1061.8 149.3 1068.2 C160 1074.6 175.6 1083.5 188.8 1090.5 C202 1097.5 218.5 1104.5 228.3 1110.2 C238.2 1116 242.3 1121.7 248.1 1125 C253.9 1128.3 258 1129.8 262.9 1130 C267.9 1130.2 275.3 1126.9 277.7 1126.3"/>
<path d="M265.7 1023.3 C272.3 1027.2 297.9 1042.1 305.2 1046.6 C312.4 1051.1 308.3 1048.9 309.2 1050.5 C310.1 1052.1 310.4 1047.3 310.7 1056.4 C310.9 1065.5 310.9 1096.2 310.7 1104.9 C310.4 1113.6 310.4 1107.7 309.2 1108.8 C307.9 1109.9 309.8 1108.8 303.2 1111.8 C296.6 1114.8 276.5 1123.7 269.6 1126.6 C262.7 1129.5 263.3 1128.6 262 1129"/>
<path d="M113.5 991.6 L232 1065.8"/>
<path d="M154.2 1002.8 L191.3 983 L193.3 987.2 L167.8 995.3"/>
<path d="M225.9 1046 L265.7 1023.3"/>
<path d="M266.2 1075.2 L302.3 1054.5"/>
<path d="M258.8 1083.1 L254.3 1123.6"/>
<path d="M106.5 1008 C106.7 1007.9 107.2 1007.4 107.6 1007.2 C108 1007 108.4 1006.8 108.9 1006.7 C109.3 1006.5 109.7 1006.4 110.1 1006.4 C110.5 1006.3 111 1006.3 111.4 1006.3 C111.8 1006.4 112.2 1006.4 112.6 1006.5 C113.1 1006.6 113.5 1006.8 113.9 1007 C114.3 1007.2 114.7 1007.4 115 1007.6 C115.4 1007.9 115.8 1008.2 116.1 1008.6 C116.5 1008.9 116.8 1009.3 117.1 1009.7 C117.4 1010.1 117.7 1010.5 118 1011 C118.3 1011.4 118.5 1011.9 118.7 1012.4 C118.9 1012.9 119.1 1013.4 119.3 1014 C119.5 1014.5 119.6 1015.1 119.7 1015.7 C119.8 1016.2 119.9 1016.8 119.9 1017.4 C120 1018 120 1018.6 120 1019.2 C120 1019.7 119.9 1020.3 119.9 1020.9 C119.8 1021.5 119.7 1022.1 119.6 1022.6 C119.4 1023.2 119.3 1023.7 119.1 1024.3 C118.9 1024.8 118.7 1025.3 118.5 1025.8 C118.2 1026.3 118 1026.8 117.7 1027.2 C117.4 1027.6 117.1 1028 116.8 1028.4 C116.4 1028.8 116.1 1029.1 115.7 1029.4 C115.4 1029.8 115 1030 114.6 1030.3 C114.2 1030.5 113.8 1030.7 113.4 1030.9 C113 1031 112.6 1031.1 112.2 1031.2 C111.7 1031.3 111.3 1031.3 110.9 1031.3 C110.5 1031.3 110 1031.3 109.6 1031.2 C109.2 1031.1 108.8 1030.9 108.4 1030.8 C108 1030.6 107.4 1030.2 107.2 1030.1"/>
<path d="M235 1091.2 C235.1 1091.1 235.7 1090.6 236.1 1090.4 C236.5 1090.2 236.9 1090.1 237.3 1089.9 C237.7 1089.8 238.1 1089.7 238.6 1089.6 C239 1089.6 239.4 1089.6 239.8 1089.6 C240.3 1089.6 240.7 1089.7 241.1 1089.8 C241.5 1089.9 241.9 1090 242.3 1090.2 C242.7 1090.4 243.1 1090.6 243.5 1090.9 C243.9 1091.1 244.2 1091.4 244.6 1091.7 C244.9 1092 245.3 1092.4 245.6 1092.8 C245.9 1093.2 246.2 1093.6 246.5 1094 C246.7 1094.5 247 1094.9 247.2 1095.4 C247.4 1095.9 247.6 1096.4 247.8 1096.9 C247.9 1097.4 248.1 1098 248.2 1098.5 C248.3 1099.1 248.3 1099.6 248.4 1100.2 C248.4 1100.8 248.5 1101.3 248.5 1101.9 C248.4 1102.5 248.4 1103 248.3 1103.6 C248.3 1104.1 248.2 1104.7 248 1105.2 C247.9 1105.8 247.7 1106.3 247.6 1106.8 C247.4 1107.3 247.2 1107.8 246.9 1108.3 C246.7 1108.7 246.4 1109.2 246.1 1109.6 C245.9 1110 245.5 1110.4 245.2 1110.8 C244.9 1111.1 244.5 1111.5 244.2 1111.8 C243.8 1112.1 243.5 1112.3 243.1 1112.6 C242.7 1112.8 242.3 1113 241.9 1113.1 C241.5 1113.3 241 1113.4 240.6 1113.5 C240.2 1113.5 239.8 1113.6 239.3 1113.6 C238.9 1113.6 238.5 1113.5 238.1 1113.4 C237.7 1113.3 237.2 1113.2 236.8 1113.1 C236.4 1112.9 235.9 1112.5 235.7 1112.4"/>
<path d="M717.3 1109.1 L738.1 1097.5"/>
<path d="M722.3 1117.5 L742.5 1106.1"/>
<path d="M738.1 1097.5 C738.6 1097.5 740.2 1097.2 741 1097.7 C741.9 1098.1 742.6 1099.2 743 1100.2 C743.4 1101.1 743.6 1102.6 743.5 1103.6 C743.4 1104.6 742.7 1105.7 742.5 1106.1"/>
<ellipse cx="705.9" cy="1122.4" rx="15.8" ry="17.6" transform="rotate(-30 705.9 1122.4)" fill="#fff"/>
<path d="M703.8 1105.7 C704.1 1105.6 705.1 1105.3 705.7 1105.2 C706.4 1105.1 707.1 1105.1 707.7 1105.1 C708.4 1105.1 709.1 1105.2 709.8 1105.3 C710.5 1105.4 711.2 1105.6 711.9 1105.9 C712.5 1106.1 713.2 1106.4 713.9 1106.7 C714.5 1107 715.2 1107.4 715.8 1107.9 C716.4 1108.3 717 1108.8 717.6 1109.3 C718.2 1109.8 718.7 1110.3 719.3 1110.9 C719.8 1111.5 720.3 1112.1 720.7 1112.8 C721.2 1113.4 721.6 1114.1 722 1114.8 C722.3 1115.5 722.7 1116.2 722.9 1117 C723.2 1117.7 723.5 1118.5 723.7 1119.2 C723.8 1120 724 1120.7 724.1 1121.5 C724.2 1122.2 724.2 1123 724.2 1123.8 C724.2 1124.5 724.1 1125.2 724 1126 C723.9 1126.7 723.8 1127.4 723.6 1128.1 C723.4 1128.7 723.1 1129.4 722.8 1130 C722.6 1130.6 722.2 1131.2 721.8 1131.8 C721.5 1132.3 721 1132.8 720.6 1133.3 C720.1 1133.8 719.6 1134.2 719.1 1134.6 C718.6 1135 718 1135.3 717.4 1135.6 C716.8 1135.9 716.2 1136.1 715.6 1136.3 C715 1136.5 714 1136.6 713.7 1136.6"/>
<path d="M694.3 1111.2 C694.4 1111 695 1110.3 695.4 1109.9 C695.8 1109.5 696.2 1109.1 696.6 1108.8 C697.1 1108.4 697.6 1108.1 698 1107.8 C698.5 1107.6 699 1107.3 699.6 1107.1 C700.1 1106.9 700.6 1106.7 701.2 1106.6 C701.7 1106.4 702.6 1106.3 702.8 1106.2" stroke-width="1.1"/>
<path d="M697.5 1115 C695.7 1115.5 694.9 1117.1 692.6 1119.4 C690.3 1121.7 685.4 1126.6 683.7 1128.8 C682.1 1131 682.6 1131.5 682.7 1132.8 C682.9 1134 683.7 1135.5 684.7 1136.2 C685.7 1137 684.9 1138 688.7 1137.2 C692.4 1136.5 704 1133.5 707.4 1131.8 C710.9 1130 709.4 1128.6 709.4 1126.8 C709.4 1125 708.4 1122.6 707.4 1120.9 C706.4 1119.2 705.1 1117.5 703.5 1116.5 C701.8 1115.5 699.4 1114.5 697.5 1115 Z" fill="#fff"/>
<path d="M689.6 1134.7 C689.5 1134.4 688.7 1133.4 688.7 1132.8 C688.7 1132.1 689.5 1131.1 689.6 1130.8" stroke-width="1"/>
<path d="M715.3 1129.8 C715.2 1130.5 714.4 1132.6 714.3 1133.8 C714.3 1134.9 714.8 1136.2 714.8 1136.7" stroke-width="1.1"/>
<path d="M324.9 1294.3 C324.7 1284.9 323.5 1248.1 323.7 1237.4 C323.9 1226.8 324.7 1232.3 326.1 1230.3 C327.5 1228.3 329.8 1227 332 1225.6 C334.2 1224.2 337.9 1222.6 339.1 1222"/>
<path d="M339.1 1222 L513.4 1319.2"/>
<path d="M513.4 1319.2 C514.4 1320.4 518.2 1323.8 519.4 1326.4 C520.6 1328.9 520.4 1324.2 520.6 1334.7 C520.7 1345.1 521.1 1379.1 520.6 1389.2 C520 1399.3 519 1393.8 517 1395.1 C515 1396.5 511.3 1397.3 508.7 1397.5 C506.1 1397.7 502.8 1396.5 501.6 1396.3"/>
<path d="M324.9 1237.4 C325.3 1237 326.3 1235.2 327.3 1234.6 C328.3 1234 330.2 1233.8 330.8 1233.6"/>
<path d="M330.8 1233.6 L501.6 1329.9"/>
<path d="M501.6 1329.9 C502.3 1330.8 505.1 1333.2 505.8 1335.1 C506.6 1337.1 506.2 1332.4 506.3 1341.8 C506.4 1351.2 506.7 1382.6 506.3 1391.6 C505.9 1400.6 504.9 1395.1 504 1395.8 C503 1396.6 501 1396.2 500.4 1396.3"/>
<path d="M500.4 1396.3 L335.6 1301.5"/>
<path d="M335.6 1301.5 C334.2 1300.9 329.1 1299.1 327.3 1297.9 C325.5 1296.7 325.3 1294.9 324.9 1294.3"/>
<path d="M333.2 1235.1 L393.7 1264" stroke-width="1.2"/>
<path d="M373.5 1293.2 L404.3 1309.8"/>
<path d="M407.9 1312.1 L454.1 1340.6"/>
<path d="M500.4 1382.1 L501.6 1391.6" stroke-width="1.1"/>
<path d="M509.9 1377.4 L509.9 1391.6" stroke-width="1.1"/>
<defs><clipPath id="h1"><path d="M328 1241.7 L389.6 1276.6 L328 1290.8 Z"/></clipPath><clipPath id="h2"><path d="M442.3 1356 L496.8 1346 L496.8 1389.2 Z"/></clipPath><pattern id="xh" width="5.2" height="5.2" patternUnits="userSpaceOnUse" patternTransform="rotate(45) skewX(-10)"><path d="M0 0 L0 5.2 M0 0 L5.2 0" stroke="#000" stroke-width="1.65"/></pattern></defs>
<path clip-path="url(#h1)" d="M328 1241.7 L389.6 1276.6 L328 1290.8 Z" fill="url(#xh)" stroke="none"/>
<path clip-path="url(#h2)" d="M442.3 1356 L496.8 1346 L496.8 1389.2 Z" fill="url(#xh)" stroke="none"/>
<path d="M480.5 1253.6 C480.8 1253.4 481.4 1252.6 482.2 1252.2 C483 1251.9 484.1 1251.2 485.4 1251.4 C486.8 1251.6 488.9 1252.4 490.3 1253.3 C491.8 1254.2 493 1255.4 494.1 1256.8 C495.3 1258.3 496.5 1259.8 497.4 1261.7 C498.3 1263.6 499.3 1266.4 499.6 1268.3 C499.8 1270.1 499.7 1271.2 499 1272.6 C498.3 1274 496.2 1275.6 495.2 1276.4 C494.2 1277.2 493.4 1277.3 493 1277.5"/>
<path d="M486.5 1256.8 L490.9 1254.7" stroke-width="1.2"/>
<path d="M494.1 1270.4 L499 1268.3" stroke-width="1.2"/>
<ellipse cx="479.8" cy="1270" rx="18" ry="12.6" transform="rotate(58 479.8 1270)" fill="#fff"/>
<path d="M471.8 1255.2 C472.4 1255.3 474.1 1255.4 475.1 1255.8 C476.1 1256.1 477.4 1257.1 477.8 1257.4" stroke-width="1.2"/>
<path d="M490.3 1278 C490.2 1278.6 490.1 1280.4 489.8 1281.3 C489.5 1282.2 488.9 1283.1 488.7 1283.5" stroke-width="1.2"/>
<path d="M471.8 1267.7 C471.9 1267.3 471.9 1265.7 472.4 1265 C472.8 1264.3 473.7 1263.6 474.6 1263.4 C475.5 1263.2 476.7 1263.4 477.8 1263.9 C478.9 1264.5 480.1 1265.4 481.1 1266.6 C482.1 1267.9 483.4 1270 483.8 1271.5 C484.3 1273.1 484.1 1274.7 483.8 1275.9 C483.5 1277 482.8 1277.9 482.2 1278.3 C481.5 1278.8 480.8 1278.7 480 1278.6 C479.2 1278.5 477.7 1277.7 477.3 1277.5" stroke-width="1.3"/>
<path d="M475.1 1263.9 C475.3 1264.9 475.6 1268.1 476.2 1269.9 C476.8 1271.7 477.9 1273.6 478.9 1274.8 C479.9 1276 481.6 1276.6 482.2 1277" stroke-width="1.2"/>
<path d="M478.4 1265 C478.8 1265.4 480.3 1266.2 481.1 1267.2 C481.9 1268.2 483 1270 483.3 1271 C483.5 1272 482.8 1272.8 482.7 1273.2" stroke-width="1.1"/>
<g stroke="none" font-family="Liberation Sans" font-weight="bold" font-style="italic" style="mix-blend-mode:multiply"><text x="321" y="804.5" font-size="23" fill="#c9c9c9" textLength="134" lengthAdjust="spacingAndGlyphs">SKLEP</text><text x="454" y="804.5" font-size="23" fill="#f6b8b8" textLength="108" lengthAdjust="spacingAndGlyphs">MOTO</text><path d="M566 780 L632 780 L626 806 L560 806 Z" fill="#f9c4c4"/><text x="570" y="804" font-size="23" fill="#fff" textLength="52" lengthAdjust="spacingAndGlyphs">46</text><text x="630" y="804.5" font-size="23" fill="#c9c9c9" textLength="57" lengthAdjust="spacingAndGlyphs">.PL</text><text x="319" y="818.5" font-size="12.5" fill="#c8c8c8" textLength="236" lengthAdjust="spacing">internetowy sklep motocyklowy</text></g>
</g>
</svg>
</body></html>
